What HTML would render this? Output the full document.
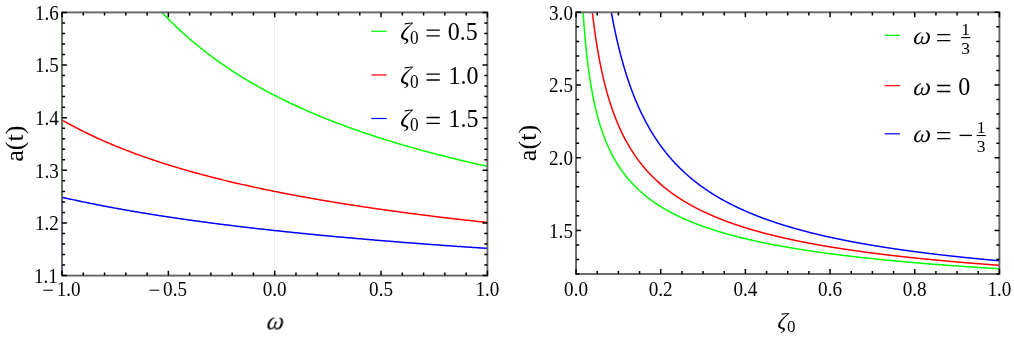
<!DOCTYPE html>
<html><head><meta charset="utf-8"><title>plot</title>
<style>
html,body{margin:0;padding:0;background:#fff;}
body{width:1014px;height:364px;overflow:hidden;}
svg{display:block;font-family:"Liberation Serif",serif;fill:#000;}
</style></head><body>
<svg width="1014" height="364" viewBox="0 0 1014 364">
<rect width="1014" height="364" fill="#fff"/>
<clipPath id="cl"><rect x="62.00" y="12.40" width="425.40" height="263.20"/></clipPath>
<line x1="274.5" x2="274.5" y1="12.40" y2="275.60" stroke="#e9e9e9" stroke-width="1"/>
<path clip-path="url(#cl)" d="M62.00,-170.65 L63.06,-167.26 L64.13,-163.92 L65.19,-160.64 L66.25,-157.42 L67.32,-154.24 L68.38,-151.11 L69.44,-148.04 L70.51,-145.01 L71.57,-142.02 L72.64,-139.09 L73.70,-136.19 L74.76,-133.34 L75.83,-130.53 L76.89,-127.77 L77.95,-125.04 L79.02,-122.35 L80.08,-119.70 L81.14,-117.09 L82.21,-114.51 L83.27,-111.97 L84.33,-109.47 L85.40,-107.00 L86.46,-104.56 L87.52,-102.16 L88.59,-99.79 L89.65,-97.45 L90.71,-95.14 L91.78,-92.86 L92.84,-90.61 L93.91,-88.39 L94.97,-86.19 L96.03,-84.03 L97.10,-81.89 L98.16,-79.78 L99.22,-77.69 L100.29,-75.63 L101.35,-73.60 L102.41,-71.59 L103.48,-69.60 L104.54,-67.64 L105.60,-65.70 L106.67,-63.78 L107.73,-61.89 L108.79,-60.02 L109.86,-58.17 L110.92,-56.34 L111.98,-54.53 L113.05,-52.74 L114.11,-50.97 L115.17,-49.23 L116.24,-47.50 L117.30,-45.79 L118.37,-44.10 L119.43,-42.42 L120.49,-40.77 L121.56,-39.13 L122.62,-37.51 L123.68,-35.91 L124.75,-34.32 L125.81,-32.75 L126.87,-31.20 L127.94,-29.66 L129.00,-28.14 L130.06,-26.64 L131.13,-25.14 L132.19,-23.67 L133.25,-22.21 L134.32,-20.76 L135.38,-19.33 L136.44,-17.91 L137.51,-16.51 L138.57,-15.12 L139.64,-13.74 L140.70,-12.38 L141.76,-11.02 L142.83,-9.69 L143.89,-8.36 L144.95,-7.05 L146.02,-5.75 L147.08,-4.46 L148.14,-3.18 L149.21,-1.92 L150.27,-0.66 L151.33,0.58 L152.40,1.81 L153.46,3.03 L154.52,4.24 L155.59,5.44 L156.65,6.63 L157.71,7.80 L158.78,8.97 L159.84,10.13 L160.91,11.27 L161.97,12.41 L163.03,13.54 L164.10,14.66 L165.16,15.76 L166.22,16.86 L167.29,17.95 L168.35,19.03 L169.41,20.10 L170.48,21.17 L171.54,22.22 L172.60,23.27 L173.67,24.30 L174.73,25.33 L175.79,26.35 L176.86,27.36 L177.92,28.37 L178.99,29.36 L180.05,30.35 L181.11,31.33 L182.18,32.30 L183.24,33.27 L184.30,34.22 L185.37,35.17 L186.43,36.12 L187.49,37.05 L188.56,37.98 L189.62,38.90 L190.68,39.82 L191.75,40.72 L192.81,41.62 L193.87,42.52 L194.94,43.41 L196.00,44.29 L197.06,45.16 L198.13,46.03 L199.19,46.89 L200.25,47.74 L201.32,48.59 L202.38,49.44 L203.45,50.27 L204.51,51.10 L205.57,51.93 L206.64,52.75 L207.70,53.56 L208.76,54.37 L209.83,55.17 L210.89,55.97 L211.95,56.76 L213.02,57.54 L214.08,58.32 L215.14,59.10 L216.21,59.87 L217.27,60.63 L218.33,61.39 L219.40,62.14 L220.46,62.89 L221.52,63.64 L222.59,64.38 L223.65,65.11 L224.72,65.84 L225.78,66.56 L226.84,67.28 L227.91,68.00 L228.97,68.71 L230.03,69.41 L231.10,70.11 L232.16,70.81 L233.22,71.50 L234.29,72.19 L235.35,72.87 L236.41,73.55 L237.48,74.23 L238.54,74.90 L239.60,75.56 L240.67,76.23 L241.73,76.88 L242.79,77.54 L243.86,78.19 L244.92,78.83 L245.99,79.48 L247.05,80.11 L248.11,80.75 L249.18,81.38 L250.24,82.00 L251.30,82.63 L252.37,83.25 L253.43,83.86 L254.49,84.47 L255.56,85.08 L256.62,85.68 L257.68,86.29 L258.75,86.88 L259.81,87.48 L260.87,88.07 L261.94,88.65 L263.00,89.24 L264.06,89.82 L265.13,90.39 L266.19,90.97 L267.26,91.54 L268.32,92.10 L269.38,92.67 L270.45,93.23 L271.51,93.79 L272.57,94.34 L273.64,94.89 L274.70,95.44 L275.76,95.98 L276.83,96.53 L277.89,97.07 L278.95,97.60 L280.02,98.14 L281.08,98.67 L282.14,99.19 L283.21,99.72 L284.27,100.24 L285.34,100.76 L286.40,101.27 L287.46,101.79 L288.53,102.30 L289.59,102.80 L290.65,103.31 L291.72,103.81 L292.78,104.31 L293.84,104.81 L294.91,105.30 L295.97,105.80 L297.03,106.28 L298.10,106.77 L299.16,107.26 L300.22,107.74 L301.29,108.22 L302.35,108.69 L303.41,109.17 L304.48,109.64 L305.54,110.11 L306.60,110.58 L307.67,111.04 L308.73,111.50 L309.80,111.96 L310.86,112.42 L311.92,112.88 L312.99,113.33 L314.05,113.78 L315.11,114.23 L316.18,114.68 L317.24,115.12 L318.30,115.56 L319.37,116.00 L320.43,116.44 L321.49,116.88 L322.56,117.31 L323.62,117.74 L324.68,118.17 L325.75,118.60 L326.81,119.02 L327.88,119.45 L328.94,119.87 L330.00,120.29 L331.07,120.71 L332.13,121.12 L333.19,121.53 L334.26,121.95 L335.32,122.36 L336.38,122.76 L337.45,123.17 L338.51,123.57 L339.57,123.97 L340.64,124.37 L341.70,124.77 L342.76,125.17 L343.83,125.56 L344.89,125.96 L345.95,126.35 L347.02,126.74 L348.08,127.12 L349.14,127.51 L350.21,127.89 L351.27,128.28 L352.34,128.66 L353.40,129.03 L354.46,129.41 L355.53,129.79 L356.59,130.16 L357.65,130.53 L358.72,130.90 L359.78,131.27 L360.84,131.64 L361.91,132.00 L362.97,132.37 L364.03,132.73 L365.10,133.09 L366.16,133.45 L367.22,133.81 L368.29,134.16 L369.35,134.52 L370.41,134.87 L371.48,135.22 L372.54,135.57 L373.61,135.92 L374.67,136.27 L375.73,136.61 L376.80,136.96 L377.86,137.30 L378.92,137.64 L379.99,137.98 L381.05,138.32 L382.11,138.66 L383.18,138.99 L384.24,139.33 L385.30,139.66 L386.37,139.99 L387.43,140.32 L388.49,140.65 L389.56,140.98 L390.62,141.30 L391.69,141.63 L392.75,141.95 L393.81,142.27 L394.88,142.59 L395.94,142.91 L397.00,143.23 L398.07,143.55 L399.13,143.86 L400.19,144.18 L401.26,144.49 L402.32,144.80 L403.38,145.11 L404.45,145.42 L405.51,145.73 L406.57,146.04 L407.64,146.34 L408.70,146.65 L409.76,146.95 L410.83,147.25 L411.89,147.55 L412.95,147.85 L414.02,148.15 L415.08,148.45 L416.15,148.74 L417.21,149.04 L418.27,149.33 L419.34,149.63 L420.40,149.92 L421.46,150.21 L422.53,150.50 L423.59,150.79 L424.65,151.07 L425.72,151.36 L426.78,151.64 L427.84,151.93 L428.91,152.21 L429.97,152.49 L431.03,152.77 L432.10,153.05 L433.16,153.33 L434.22,153.61 L435.29,153.89 L436.35,154.16 L437.42,154.44 L438.48,154.71 L439.54,154.98 L440.61,155.25 L441.67,155.52 L442.73,155.79 L443.80,156.06 L444.86,156.33 L445.92,156.60 L446.99,156.86 L448.05,157.13 L449.11,157.39 L450.18,157.65 L451.24,157.91 L452.30,158.17 L453.37,158.43 L454.43,158.69 L455.50,158.95 L456.56,159.21 L457.62,159.47 L458.69,159.72 L459.75,159.97 L460.81,160.23 L461.88,160.48 L462.94,160.73 L464.00,160.98 L465.07,161.23 L466.13,161.48 L467.19,161.73 L468.26,161.98 L469.32,162.22 L470.38,162.47 L471.45,162.71 L472.51,162.96 L473.57,163.20 L474.64,163.44 L475.70,163.69 L476.76,163.93 L477.83,164.17 L478.89,164.40 L479.96,164.64 L481.02,164.88 L482.08,165.12 L483.15,165.35 L484.21,165.59 L485.27,165.82 L486.34,166.05 L487.40,166.29" stroke="#00ff00" stroke-width="1.5" fill="none"/>
<path clip-path="url(#cl)" d="M62.00,119.99 L63.06,120.60 L64.13,121.20 L65.19,121.81 L66.25,122.40 L67.32,122.99 L68.38,123.58 L69.44,124.17 L70.51,124.75 L71.57,125.32 L72.64,125.89 L73.70,126.46 L74.76,127.02 L75.83,127.58 L76.89,128.13 L77.95,128.69 L79.02,129.23 L80.08,129.78 L81.14,130.32 L82.21,130.85 L83.27,131.38 L84.33,131.91 L85.40,132.44 L86.46,132.96 L87.52,133.48 L88.59,133.99 L89.65,134.50 L90.71,135.01 L91.78,135.52 L92.84,136.02 L93.91,136.52 L94.97,137.01 L96.03,137.50 L97.10,137.99 L98.16,138.47 L99.22,138.96 L100.29,139.43 L101.35,139.91 L102.41,140.38 L103.48,140.85 L104.54,141.32 L105.60,141.78 L106.67,142.24 L107.73,142.70 L108.79,143.16 L109.86,143.61 L110.92,144.06 L111.98,144.51 L113.05,144.95 L114.11,145.39 L115.17,145.83 L116.24,146.27 L117.30,146.70 L118.37,147.13 L119.43,147.56 L120.49,147.99 L121.56,148.41 L122.62,148.83 L123.68,149.25 L124.75,149.66 L125.81,150.08 L126.87,150.49 L127.94,150.90 L129.00,151.30 L130.06,151.71 L131.13,152.11 L132.19,152.51 L133.25,152.91 L134.32,153.30 L135.38,153.69 L136.44,154.08 L137.51,154.47 L138.57,154.86 L139.64,155.24 L140.70,155.62 L141.76,156.00 L142.83,156.38 L143.89,156.76 L144.95,157.13 L146.02,157.50 L147.08,157.87 L148.14,158.24 L149.21,158.60 L150.27,158.97 L151.33,159.33 L152.40,159.69 L153.46,160.05 L154.52,160.40 L155.59,160.76 L156.65,161.11 L157.71,161.46 L158.78,161.81 L159.84,162.15 L160.91,162.50 L161.97,162.84 L163.03,163.18 L164.10,163.52 L165.16,163.86 L166.22,164.19 L167.29,164.53 L168.35,164.86 L169.41,165.19 L170.48,165.52 L171.54,165.85 L172.60,166.17 L173.67,166.50 L174.73,166.82 L175.79,167.14 L176.86,167.46 L177.92,167.78 L178.99,168.10 L180.05,168.41 L181.11,168.72 L182.18,169.04 L183.24,169.35 L184.30,169.65 L185.37,169.96 L186.43,170.27 L187.49,170.57 L188.56,170.87 L189.62,171.18 L190.68,171.48 L191.75,171.77 L192.81,172.07 L193.87,172.37 L194.94,172.66 L196.00,172.95 L197.06,173.25 L198.13,173.54 L199.19,173.82 L200.25,174.11 L201.32,174.40 L202.38,174.68 L203.45,174.97 L204.51,175.25 L205.57,175.53 L206.64,175.81 L207.70,176.09 L208.76,176.36 L209.83,176.64 L210.89,176.92 L211.95,177.19 L213.02,177.46 L214.08,177.73 L215.14,178.00 L216.21,178.27 L217.27,178.54 L218.33,178.80 L219.40,179.07 L220.46,179.33 L221.52,179.59 L222.59,179.86 L223.65,180.12 L224.72,180.38 L225.78,180.63 L226.84,180.89 L227.91,181.15 L228.97,181.40 L230.03,181.66 L231.10,181.91 L232.16,182.16 L233.22,182.41 L234.29,182.66 L235.35,182.91 L236.41,183.16 L237.48,183.40 L238.54,183.65 L239.60,183.89 L240.67,184.13 L241.73,184.38 L242.79,184.62 L243.86,184.86 L244.92,185.10 L245.99,185.34 L247.05,185.57 L248.11,185.81 L249.18,186.04 L250.24,186.28 L251.30,186.51 L252.37,186.74 L253.43,186.98 L254.49,187.21 L255.56,187.44 L256.62,187.66 L257.68,187.89 L258.75,188.12 L259.81,188.35 L260.87,188.57 L261.94,188.79 L263.00,189.02 L264.06,189.24 L265.13,189.46 L266.19,189.68 L267.26,189.90 L268.32,190.12 L269.38,190.34 L270.45,190.56 L271.51,190.77 L272.57,190.99 L273.64,191.20 L274.70,191.42 L275.76,191.63 L276.83,191.84 L277.89,192.05 L278.95,192.27 L280.02,192.47 L281.08,192.68 L282.14,192.89 L283.21,193.10 L284.27,193.31 L285.34,193.51 L286.40,193.72 L287.46,193.92 L288.53,194.13 L289.59,194.33 L290.65,194.53 L291.72,194.73 L292.78,194.93 L293.84,195.13 L294.91,195.33 L295.97,195.53 L297.03,195.73 L298.10,195.92 L299.16,196.12 L300.22,196.32 L301.29,196.51 L302.35,196.70 L303.41,196.90 L304.48,197.09 L305.54,197.28 L306.60,197.47 L307.67,197.66 L308.73,197.85 L309.80,198.04 L310.86,198.23 L311.92,198.42 L312.99,198.61 L314.05,198.79 L315.11,198.98 L316.18,199.17 L317.24,199.35 L318.30,199.53 L319.37,199.72 L320.43,199.90 L321.49,200.08 L322.56,200.26 L323.62,200.44 L324.68,200.62 L325.75,200.80 L326.81,200.98 L327.88,201.16 L328.94,201.34 L330.00,201.52 L331.07,201.69 L332.13,201.87 L333.19,202.04 L334.26,202.22 L335.32,202.39 L336.38,202.57 L337.45,202.74 L338.51,202.91 L339.57,203.08 L340.64,203.25 L341.70,203.43 L342.76,203.60 L343.83,203.76 L344.89,203.93 L345.95,204.10 L347.02,204.27 L348.08,204.44 L349.14,204.60 L350.21,204.77 L351.27,204.94 L352.34,205.10 L353.40,205.27 L354.46,205.43 L355.53,205.59 L356.59,205.76 L357.65,205.92 L358.72,206.08 L359.78,206.24 L360.84,206.40 L361.91,206.56 L362.97,206.72 L364.03,206.88 L365.10,207.04 L366.16,207.20 L367.22,207.36 L368.29,207.51 L369.35,207.67 L370.41,207.83 L371.48,207.98 L372.54,208.14 L373.61,208.29 L374.67,208.45 L375.73,208.60 L376.80,208.75 L377.86,208.91 L378.92,209.06 L379.99,209.21 L381.05,209.36 L382.11,209.51 L383.18,209.66 L384.24,209.81 L385.30,209.96 L386.37,210.11 L387.43,210.26 L388.49,210.41 L389.56,210.56 L390.62,210.70 L391.69,210.85 L392.75,211.00 L393.81,211.14 L394.88,211.29 L395.94,211.43 L397.00,211.58 L398.07,211.72 L399.13,211.87 L400.19,212.01 L401.26,212.15 L402.32,212.29 L403.38,212.44 L404.45,212.58 L405.51,212.72 L406.57,212.86 L407.64,213.00 L408.70,213.14 L409.76,213.28 L410.83,213.42 L411.89,213.56 L412.95,213.70 L414.02,213.83 L415.08,213.97 L416.15,214.11 L417.21,214.25 L418.27,214.38 L419.34,214.52 L420.40,214.65 L421.46,214.79 L422.53,214.92 L423.59,215.06 L424.65,215.19 L425.72,215.32 L426.78,215.46 L427.84,215.59 L428.91,215.72 L429.97,215.85 L431.03,215.99 L432.10,216.12 L433.16,216.25 L434.22,216.38 L435.29,216.51 L436.35,216.64 L437.42,216.77 L438.48,216.90 L439.54,217.03 L440.61,217.15 L441.67,217.28 L442.73,217.41 L443.80,217.54 L444.86,217.66 L445.92,217.79 L446.99,217.92 L448.05,218.04 L449.11,218.17 L450.18,218.29 L451.24,218.42 L452.30,218.54 L453.37,218.67 L454.43,218.79 L455.50,218.91 L456.56,219.04 L457.62,219.16 L458.69,219.28 L459.75,219.40 L460.81,219.53 L461.88,219.65 L462.94,219.77 L464.00,219.89 L465.07,220.01 L466.13,220.13 L467.19,220.25 L468.26,220.37 L469.32,220.49 L470.38,220.61 L471.45,220.73 L472.51,220.84 L473.57,220.96 L474.64,221.08 L475.70,221.20 L476.76,221.31 L477.83,221.43 L478.89,221.55 L479.96,221.66 L481.02,221.78 L482.08,221.89 L483.15,222.01 L484.21,222.12 L485.27,222.24 L486.34,222.35 L487.40,222.47" stroke="#ff0000" stroke-width="1.5" fill="none"/>
<path clip-path="url(#cl)" d="M62.00,197.25 L63.06,197.49 L64.13,197.73 L65.19,197.97 L66.25,198.21 L67.32,198.45 L68.38,198.69 L69.44,198.92 L70.51,199.16 L71.57,199.39 L72.64,199.62 L73.70,199.86 L74.76,200.09 L75.83,200.32 L76.89,200.54 L77.95,200.77 L79.02,201.00 L80.08,201.22 L81.14,201.45 L82.21,201.67 L83.27,201.89 L84.33,202.11 L85.40,202.33 L86.46,202.55 L87.52,202.77 L88.59,202.99 L89.65,203.21 L90.71,203.42 L91.78,203.64 L92.84,203.85 L93.91,204.06 L94.97,204.27 L96.03,204.48 L97.10,204.69 L98.16,204.90 L99.22,205.11 L100.29,205.32 L101.35,205.52 L102.41,205.73 L103.48,205.93 L104.54,206.14 L105.60,206.34 L106.67,206.54 L107.73,206.74 L108.79,206.94 L109.86,207.14 L110.92,207.34 L111.98,207.54 L113.05,207.73 L114.11,207.93 L115.17,208.13 L116.24,208.32 L117.30,208.51 L118.37,208.71 L119.43,208.90 L120.49,209.09 L121.56,209.28 L122.62,209.47 L123.68,209.66 L124.75,209.85 L125.81,210.03 L126.87,210.22 L127.94,210.41 L129.00,210.59 L130.06,210.77 L131.13,210.96 L132.19,211.14 L133.25,211.32 L134.32,211.50 L135.38,211.68 L136.44,211.86 L137.51,212.04 L138.57,212.22 L139.64,212.40 L140.70,212.58 L141.76,212.75 L142.83,212.93 L143.89,213.10 L144.95,213.28 L146.02,213.45 L147.08,213.63 L148.14,213.80 L149.21,213.97 L150.27,214.14 L151.33,214.31 L152.40,214.48 L153.46,214.65 L154.52,214.82 L155.59,214.99 L156.65,215.15 L157.71,215.32 L158.78,215.49 L159.84,215.65 L160.91,215.82 L161.97,215.98 L163.03,216.14 L164.10,216.31 L165.16,216.47 L166.22,216.63 L167.29,216.79 L168.35,216.95 L169.41,217.11 L170.48,217.27 L171.54,217.43 L172.60,217.59 L173.67,217.75 L174.73,217.90 L175.79,218.06 L176.86,218.21 L177.92,218.37 L178.99,218.52 L180.05,218.68 L181.11,218.83 L182.18,218.99 L183.24,219.14 L184.30,219.29 L185.37,219.44 L186.43,219.59 L187.49,219.74 L188.56,219.89 L189.62,220.04 L190.68,220.19 L191.75,220.34 L192.81,220.49 L193.87,220.64 L194.94,220.78 L196.00,220.93 L197.06,221.07 L198.13,221.22 L199.19,221.36 L200.25,221.51 L201.32,221.65 L202.38,221.80 L203.45,221.94 L204.51,222.08 L205.57,222.22 L206.64,222.36 L207.70,222.50 L208.76,222.65 L209.83,222.79 L210.89,222.92 L211.95,223.06 L213.02,223.20 L214.08,223.34 L215.14,223.48 L216.21,223.62 L217.27,223.75 L218.33,223.89 L219.40,224.02 L220.46,224.16 L221.52,224.29 L222.59,224.43 L223.65,224.56 L224.72,224.70 L225.78,224.83 L226.84,224.96 L227.91,225.09 L228.97,225.23 L230.03,225.36 L231.10,225.49 L232.16,225.62 L233.22,225.75 L234.29,225.88 L235.35,226.01 L236.41,226.14 L237.48,226.27 L238.54,226.40 L239.60,226.52 L240.67,226.65 L241.73,226.78 L242.79,226.90 L243.86,227.03 L244.92,227.16 L245.99,227.28 L247.05,227.41 L248.11,227.53 L249.18,227.65 L250.24,227.78 L251.30,227.90 L252.37,228.02 L253.43,228.15 L254.49,228.27 L255.56,228.39 L256.62,228.51 L257.68,228.63 L258.75,228.76 L259.81,228.88 L260.87,229.00 L261.94,229.12 L263.00,229.23 L264.06,229.35 L265.13,229.47 L266.19,229.59 L267.26,229.71 L268.32,229.83 L269.38,229.94 L270.45,230.06 L271.51,230.18 L272.57,230.29 L273.64,230.41 L274.70,230.52 L275.76,230.64 L276.83,230.75 L277.89,230.87 L278.95,230.98 L280.02,231.10 L281.08,231.21 L282.14,231.32 L283.21,231.44 L284.27,231.55 L285.34,231.66 L286.40,231.77 L287.46,231.88 L288.53,231.99 L289.59,232.10 L290.65,232.22 L291.72,232.33 L292.78,232.44 L293.84,232.55 L294.91,232.65 L295.97,232.76 L297.03,232.87 L298.10,232.98 L299.16,233.09 L300.22,233.20 L301.29,233.30 L302.35,233.41 L303.41,233.52 L304.48,233.62 L305.54,233.73 L306.60,233.84 L307.67,233.94 L308.73,234.05 L309.80,234.15 L310.86,234.26 L311.92,234.36 L312.99,234.46 L314.05,234.57 L315.11,234.67 L316.18,234.78 L317.24,234.88 L318.30,234.98 L319.37,235.08 L320.43,235.19 L321.49,235.29 L322.56,235.39 L323.62,235.49 L324.68,235.59 L325.75,235.69 L326.81,235.79 L327.88,235.89 L328.94,235.99 L330.00,236.09 L331.07,236.19 L332.13,236.29 L333.19,236.39 L334.26,236.49 L335.32,236.59 L336.38,236.68 L337.45,236.78 L338.51,236.88 L339.57,236.98 L340.64,237.07 L341.70,237.17 L342.76,237.27 L343.83,237.36 L344.89,237.46 L345.95,237.55 L347.02,237.65 L348.08,237.75 L349.14,237.84 L350.21,237.94 L351.27,238.03 L352.34,238.12 L353.40,238.22 L354.46,238.31 L355.53,238.41 L356.59,238.50 L357.65,238.59 L358.72,238.68 L359.78,238.78 L360.84,238.87 L361.91,238.96 L362.97,239.05 L364.03,239.14 L365.10,239.24 L366.16,239.33 L367.22,239.42 L368.29,239.51 L369.35,239.60 L370.41,239.69 L371.48,239.78 L372.54,239.87 L373.61,239.96 L374.67,240.05 L375.73,240.14 L376.80,240.23 L377.86,240.31 L378.92,240.40 L379.99,240.49 L381.05,240.58 L382.11,240.67 L383.18,240.75 L384.24,240.84 L385.30,240.93 L386.37,241.02 L387.43,241.10 L388.49,241.19 L389.56,241.28 L390.62,241.36 L391.69,241.45 L392.75,241.53 L393.81,241.62 L394.88,241.70 L395.94,241.79 L397.00,241.87 L398.07,241.96 L399.13,242.04 L400.19,242.13 L401.26,242.21 L402.32,242.29 L403.38,242.38 L404.45,242.46 L405.51,242.54 L406.57,242.63 L407.64,242.71 L408.70,242.79 L409.76,242.87 L410.83,242.96 L411.89,243.04 L412.95,243.12 L414.02,243.20 L415.08,243.28 L416.15,243.36 L417.21,243.45 L418.27,243.53 L419.34,243.61 L420.40,243.69 L421.46,243.77 L422.53,243.85 L423.59,243.93 L424.65,244.01 L425.72,244.09 L426.78,244.17 L427.84,244.24 L428.91,244.32 L429.97,244.40 L431.03,244.48 L432.10,244.56 L433.16,244.64 L434.22,244.72 L435.29,244.79 L436.35,244.87 L437.42,244.95 L438.48,245.03 L439.54,245.10 L440.61,245.18 L441.67,245.26 L442.73,245.33 L443.80,245.41 L444.86,245.49 L445.92,245.56 L446.99,245.64 L448.05,245.71 L449.11,245.79 L450.18,245.86 L451.24,245.94 L452.30,246.01 L453.37,246.09 L454.43,246.16 L455.50,246.24 L456.56,246.31 L457.62,246.39 L458.69,246.46 L459.75,246.53 L460.81,246.61 L461.88,246.68 L462.94,246.76 L464.00,246.83 L465.07,246.90 L466.13,246.97 L467.19,247.05 L468.26,247.12 L469.32,247.19 L470.38,247.26 L471.45,247.34 L472.51,247.41 L473.57,247.48 L474.64,247.55 L475.70,247.62 L476.76,247.69 L477.83,247.77 L478.89,247.84 L479.96,247.91 L481.02,247.98 L482.08,248.05 L483.15,248.12 L484.21,248.19 L485.27,248.26 L486.34,248.33 L487.40,248.40" stroke="#0000ff" stroke-width="1.5" fill="none"/>
<rect x="62.00" y="12.40" width="425.40" height="263.20" fill="none" stroke="#666" stroke-width="1.9"/>
<line x1="62.5" x2="62.5" y1="12.40" y2="197.25" stroke="#00ff00" stroke-opacity=".13" stroke-width="1"/>
<line x1="62.5" x2="62.5" y1="197.25" y2="275.60" stroke="#0000ff" stroke-opacity=".13" stroke-width="1"/>
<path d="M62.00,275.60v-4.90M62.00,12.40v4.90M83.27,275.60v-3.10M83.27,12.40v3.10M104.54,275.60v-3.10M104.54,12.40v3.10M125.81,275.60v-3.10M125.81,12.40v3.10M147.08,275.60v-3.10M147.08,12.40v3.10M168.35,275.60v-4.90M168.35,12.40v4.90M189.62,275.60v-3.10M189.62,12.40v3.10M210.89,275.60v-3.10M210.89,12.40v3.10M232.16,275.60v-3.10M232.16,12.40v3.10M253.43,275.60v-3.10M253.43,12.40v3.10M274.70,275.60v-4.90M274.70,12.40v4.90M295.97,275.60v-3.10M295.97,12.40v3.10M317.24,275.60v-3.10M317.24,12.40v3.10M338.51,275.60v-3.10M338.51,12.40v3.10M359.78,275.60v-3.10M359.78,12.40v3.10M381.05,275.60v-4.90M381.05,12.40v4.90M402.32,275.60v-3.10M402.32,12.40v3.10M423.59,275.60v-3.10M423.59,12.40v3.10M444.86,275.60v-3.10M444.86,12.40v3.10M466.13,275.60v-3.10M466.13,12.40v3.10M487.40,275.60v-4.90M487.40,12.40v4.90M62.00,275.60h4.90M487.40,275.60h-4.90M62.00,265.07h3.10M487.40,265.07h-3.10M62.00,254.54h3.10M487.40,254.54h-3.10M62.00,244.02h3.10M487.40,244.02h-3.10M62.00,233.49h3.10M487.40,233.49h-3.10M62.00,222.96h4.90M487.40,222.96h-4.90M62.00,212.43h3.10M487.40,212.43h-3.10M62.00,201.90h3.10M487.40,201.90h-3.10M62.00,191.38h3.10M487.40,191.38h-3.10M62.00,180.85h3.10M487.40,180.85h-3.10M62.00,170.32h4.90M487.40,170.32h-4.90M62.00,159.79h3.10M487.40,159.79h-3.10M62.00,149.26h3.10M487.40,149.26h-3.10M62.00,138.74h3.10M487.40,138.74h-3.10M62.00,128.21h3.10M487.40,128.21h-3.10M62.00,117.68h4.90M487.40,117.68h-4.90M62.00,107.15h3.10M487.40,107.15h-3.10M62.00,96.62h3.10M487.40,96.62h-3.10M62.00,86.10h3.10M487.40,86.10h-3.10M62.00,75.57h3.10M487.40,75.57h-3.10M62.00,65.04h4.90M487.40,65.04h-4.90M62.00,54.51h3.10M487.40,54.51h-3.10M62.00,43.98h3.10M487.40,43.98h-3.10M62.00,33.46h3.10M487.40,33.46h-3.10M62.00,22.93h3.10M487.40,22.93h-3.10M62.00,12.40h4.90M487.40,12.40h-4.90" stroke="#000" stroke-width="1.5" fill="none"/>
<line x1="371.3" x2="386.7" y1="31.30" y2="31.30" stroke="#00ff00" stroke-width="1.2"/>
<path d="M426.50,30.10h13.30M426.50,35.90h13.30" stroke="#000" stroke-width="1.30" fill="none"/>
<line x1="371.3" x2="386.7" y1="75.00" y2="75.00" stroke="#ff0000" stroke-width="1.2"/>
<path d="M426.50,74.20h13.30M426.50,80.00h13.30" stroke="#000" stroke-width="1.30" fill="none"/>
<line x1="371.3" x2="386.7" y1="118.50" y2="118.50" stroke="#0000ff" stroke-width="1.2"/>
<path d="M426.50,117.50h13.30M426.50,123.30h13.30" stroke="#000" stroke-width="1.30" fill="none"/>
<clipPath id="cr"><rect x="576.05" y="12.30" width="423.35" height="261.70"/></clipPath>
<path clip-path="url(#cr)" d="M576.90,-290.58 L577.18,-239.46 L577.46,-202.27 L577.74,-173.38 L578.02,-149.97 L578.31,-130.41 L578.59,-113.69 L578.87,-99.16 L579.15,-86.34 L579.43,-74.90 L579.71,-64.60 L580.00,-55.25 L580.28,-46.70 L580.56,-38.84 L580.84,-31.57 L581.12,-24.82 L581.40,-18.52 L581.69,-12.63 L581.97,-7.10 L582.25,-1.89 L582.53,3.03 L582.81,7.69 L583.09,12.11 L583.38,16.31 L583.66,20.32 L583.94,24.14 L584.22,27.79 L584.50,31.29 L584.78,34.65 L585.07,37.87 L585.35,40.96 L585.63,43.94 L585.91,46.81 L586.19,49.58 L586.47,52.26 L586.76,54.84 L587.04,57.34 L587.32,59.76 L587.60,62.11 L587.88,64.38 L588.16,66.58 L588.45,68.73 L588.73,70.81 L589.01,72.83 L589.29,74.80 L589.57,76.72 L589.85,78.58 L590.14,80.40 L590.42,82.17 L590.70,83.90 L590.98,85.59 L591.26,87.24 L591.54,88.85 L591.83,90.42 L592.11,91.96 L592.39,93.46 L592.67,94.93 L592.95,96.37 L593.23,97.78 L593.52,99.16 L593.80,100.51 L594.08,101.84 L594.36,103.14 L594.64,104.41 L594.92,105.66 L595.21,106.89 L595.49,108.09 L595.77,109.27 L596.05,110.43 L596.33,111.57 L596.61,112.69 L596.90,113.79 L597.18,114.87 L597.46,115.93 L597.74,116.98 L598.02,118.01 L598.30,119.02 L598.59,120.01 L598.87,120.99 L599.15,121.95 L599.43,122.90 L599.71,123.84 L599.99,124.76 L600.28,125.66 L600.56,126.56 L600.84,127.44 L601.12,128.30 L601.40,129.16 L601.68,130.00 L601.97,130.83 L602.25,131.65 L602.53,132.46 L602.81,133.26 L603.09,134.05 L603.37,134.82 L603.66,135.59 L603.94,136.34 L604.22,137.09 L604.50,137.83 L604.78,138.55 L605.06,139.27 L605.35,139.98 L605.63,140.68 L605.91,141.37 L606.19,142.06 L606.47,142.73 L606.75,143.40 L607.04,144.06 L607.32,144.71 L607.60,145.36 L607.88,145.99 L608.16,146.62 L608.44,147.25 L608.73,147.86 L609.01,148.47 L609.29,149.07 L609.57,149.67 L609.85,150.26 L610.13,150.84 L610.42,151.42 L610.70,151.99 L610.98,152.55 L611.26,153.11 L611.54,153.67 L611.82,154.21 L612.11,154.76 L612.39,155.29 L612.67,155.82 L612.95,156.35 L613.23,156.87 L613.51,157.38 L613.80,157.90 L614.08,158.40 L614.36,158.90 L614.64,159.40 L614.92,159.89 L615.20,160.38 L615.49,160.86 L615.77,161.34 L616.05,161.81 L616.33,162.28 L616.61,162.74 L616.89,163.20 L617.18,163.66 L617.46,164.11 L617.74,164.56 L618.02,165.01 L618.30,165.45 L618.58,165.88 L618.87,166.32 L619.15,166.75 L619.43,167.17 L619.71,167.59 L619.99,168.01 L620.27,168.43 L620.56,168.84 L620.84,169.25 L621.12,169.65 L621.40,170.06 L621.68,170.45 L621.96,170.85 L622.25,171.24 L622.53,171.63 L622.81,172.02 L623.09,172.40 L623.37,172.78 L623.65,173.16 L623.94,173.53 L624.22,173.90 L624.50,174.27 L624.78,174.64 L625.06,175.00 L625.34,175.36 L625.63,175.72 L625.91,176.07 L626.19,176.42 L626.47,176.77 L626.75,177.12 L627.03,177.47 L627.32,177.81 L627.60,178.15 L627.88,178.48 L628.16,178.82 L628.44,179.15 L628.72,179.48 L629.01,179.81 L629.29,180.13 L629.57,180.46 L629.85,180.78 L630.13,181.10 L630.41,181.41 L630.70,181.73 L630.98,182.04 L631.26,182.35 L631.54,182.66 L631.82,182.97 L632.10,183.27 L632.39,183.57 L632.67,183.87 L632.95,184.17 L633.23,184.47 L633.51,184.76 L633.79,185.05 L634.08,185.34 L634.36,185.63 L634.64,185.92 L634.92,186.20 L635.20,186.49 L635.48,186.77 L635.77,187.05 L636.05,187.33 L636.33,187.60 L636.61,187.88 L636.89,188.15 L637.17,188.42 L637.46,188.69 L637.74,188.96 L638.02,189.22 L638.30,189.49 L638.58,189.75 L638.86,190.01 L639.15,190.27 L639.43,190.53 L639.71,190.79 L639.99,191.04 L640.27,191.30 L640.55,191.55 L640.84,191.80 L641.12,192.05 L641.40,192.30 L641.68,192.55 L641.96,192.79 L642.24,193.03 L642.53,193.28 L642.81,193.52 L643.09,193.76 L643.37,194.00 L643.65,194.23 L643.93,194.47 L644.22,194.70 L644.50,194.94 L644.78,195.17 L645.06,195.40 L645.34,195.63 L645.62,195.86 L645.91,196.08 L646.19,196.31 L646.47,196.54 L646.75,196.76 L647.03,196.98 L647.31,197.20 L647.60,197.42 L647.88,197.64 L648.16,197.86 L648.44,198.07 L648.72,198.29 L649.00,198.50 L649.29,198.72 L649.57,198.93 L649.85,199.14 L650.13,199.35 L650.41,199.56 L650.69,199.77 L650.98,199.97 L651.26,200.18 L651.54,200.38 L651.82,200.59 L652.10,200.79 L652.38,200.99 L652.67,201.19 L652.95,201.39 L653.23,201.59 L653.51,201.79 L653.79,201.98 L654.07,202.18 L654.36,202.37 L654.64,202.57 L654.92,202.76 L655.20,202.95 L655.48,203.14 L655.76,203.33 L656.05,203.52 L656.33,203.71 L656.61,203.90 L656.89,204.09 L657.17,204.27 L657.45,204.46 L657.74,204.64 L658.02,204.82 L658.30,205.01 L658.58,205.19 L658.86,205.37 L659.14,205.55 L659.43,205.73 L659.71,205.91 L659.99,206.08 L660.27,206.26 L660.55,206.44 L660.83,206.61 L661.12,206.79 L661.40,206.96 L661.68,207.13 L661.96,207.30 L662.24,207.47 L662.52,207.65 L662.81,207.81 L663.09,207.98 L663.37,208.15 L663.65,208.32 L663.93,208.49 L664.21,208.65 L664.50,208.82 L664.78,208.98 L665.06,209.15 L665.34,209.31 L665.62,209.47 L665.90,209.63 L666.19,209.79 L666.47,209.96 L666.75,210.11 L667.03,210.27 L667.31,210.43 L667.59,210.59 L667.88,210.75 L668.16,210.90 L668.44,211.06 L668.72,211.21 L669.00,211.37 L669.28,211.52 L669.57,211.68 L669.85,211.83 L670.13,211.98 L670.41,212.13 L670.69,212.28 L670.97,212.43 L671.26,212.58 L671.54,212.73 L671.82,212.88 L672.10,213.03 L672.38,213.18 L672.66,213.32 L672.95,213.47 L673.23,213.61 L673.51,213.76 L673.79,213.90 L674.07,214.05 L674.35,214.19 L674.64,214.33 L674.92,214.47 L675.20,214.62 L675.48,214.76 L675.76,214.90 L676.04,215.04 L676.33,215.18 L676.61,215.32 L676.89,215.45 L677.17,215.59 L677.45,215.73 L677.73,215.87 L678.02,216.00 L678.30,216.14 L678.58,216.27 L678.86,216.41 L679.14,216.54 L679.42,216.68 L679.71,216.81 L679.99,216.94 L680.27,217.07 L680.55,217.21 L680.83,217.34 L681.11,217.47 L681.40,217.60 L681.68,217.73 L681.96,217.86 L682.24,217.99 L682.52,218.11 L682.80,218.24 L683.09,218.37 L683.37,218.50 L683.65,218.62 L683.93,218.75 L684.21,218.88 L684.49,219.00 L684.78,219.13 L685.06,219.25 L685.34,219.37 L685.62,219.50 L685.90,219.62 L686.18,219.74 L686.47,219.86 L686.75,219.99 L687.03,220.11 L687.31,220.23 L687.59,220.35 L687.87,220.47 L688.16,220.59 L688.44,220.71 L688.72,220.83 L689.00,220.94 L689.28,221.06 L689.56,221.18 L689.85,221.30 L690.13,221.41 L690.41,221.53 L690.69,221.65 L690.97,221.76 L691.25,221.88 L691.54,221.99 L691.82,222.11 L692.10,222.22 L692.38,222.33 L692.66,222.45 L692.94,222.56 L693.23,222.67 L693.51,222.79 L693.79,222.90 L694.07,223.01 L694.35,223.12 L694.63,223.23 L694.92,223.34 L695.20,223.45 L695.48,223.56 L695.76,223.67 L696.04,223.78 L696.32,223.89 L696.61,224.00 L696.89,224.10 L697.17,224.21 L697.45,224.32 L697.73,224.43 L698.01,224.53 L698.30,224.64 L698.58,224.74 L698.86,224.85 L699.14,224.95 L699.42,225.06 L699.70,225.16 L699.99,225.27 L700.27,225.37 L700.55,225.47 L700.83,225.58 L701.11,225.68 L701.39,225.78 L701.68,225.89 L701.96,225.99 L702.24,226.09 L702.52,226.19 L702.80,226.29 L703.08,226.39 L703.37,226.49 L703.65,226.59 L703.93,226.69 L704.21,226.79 L704.49,226.89 L704.77,226.99 L705.06,227.09 L705.34,227.19 L705.62,227.28 L705.90,227.38 L706.18,227.48 L706.46,227.58 L706.75,227.67 L707.03,227.77 L707.31,227.87 L707.59,227.96 L707.87,228.06 L708.15,228.15 L708.44,228.25 L708.72,228.34 L709.00,228.44 L709.28,228.53 L709.56,228.62 L709.84,228.72 L710.13,228.81 L710.41,228.90 L710.69,229.00 L710.97,229.09 L711.25,229.18 L711.53,229.27 L711.82,229.37 L712.10,229.46 L712.38,229.55 L712.66,229.64 L712.94,229.73 L713.22,229.82 L713.51,229.91 L713.79,230.00 L714.07,230.09 L714.35,230.18 L714.63,230.27 L714.91,230.36 L715.20,230.45 L715.48,230.53 L715.76,230.62 L716.04,230.71 L716.32,230.80 L716.60,230.89 L716.89,230.97 L717.17,231.06 L717.45,231.15 L717.73,231.23 L718.01,231.32 L718.29,231.41 L718.58,231.49 L718.86,231.58 L719.14,231.66 L719.42,231.75 L719.70,231.83 L719.98,231.92 L720.27,232.00 L720.55,232.08 L720.83,232.17 L721.11,232.25 L721.39,232.34 L721.67,232.42 L721.96,232.50 L722.24,232.58 L722.52,232.67 L722.80,232.75 L723.08,232.83 L723.36,232.91 L723.65,232.99 L723.93,233.08 L724.21,233.16 L724.49,233.24 L724.77,233.32 L725.05,233.40 L725.34,233.48 L725.62,233.56 L725.90,233.64 L726.18,233.72 L726.46,233.80 L726.74,233.88 L727.03,233.96 L727.31,234.04 L727.59,234.11 L727.87,234.19 L728.15,234.27 L728.43,234.35 L728.72,234.43 L729.00,234.50 L729.28,234.58 L729.56,234.66 L729.84,234.74 L730.12,234.81 L730.41,234.89 L730.69,234.97 L730.97,235.04 L731.25,235.12 L731.53,235.19 L731.81,235.27 L732.10,235.34 L732.38,235.42 L732.66,235.49 L732.94,235.57 L733.22,235.64 L733.50,235.72 L733.79,235.79 L734.07,235.87 L734.35,235.94 L734.63,236.02 L734.91,236.09 L735.19,236.16 L735.48,236.24 L735.76,236.31 L736.04,236.38 L736.32,236.45 L736.60,236.53 L736.88,236.60 L737.17,236.67 L737.45,236.74 L737.73,236.81 L738.01,236.89 L738.29,236.96 L738.57,237.03 L738.86,237.10 L739.14,237.17 L739.42,237.24 L739.70,237.31 L739.98,237.38 L740.26,237.45 L740.55,237.52 L740.83,237.59 L741.11,237.66 L741.39,237.73 L741.67,237.80 L741.95,237.87 L742.24,237.94 L742.52,238.01 L742.80,238.08 L743.08,238.14 L743.36,238.21 L743.64,238.28 L743.93,238.35 L744.21,238.42 L744.49,238.48 L744.77,238.55 L745.05,238.62 L745.33,238.69 L745.62,238.75 L745.90,238.82 L746.18,238.89 L746.46,238.95 L746.74,239.02 L747.02,239.09 L747.31,239.15 L747.59,239.22 L747.87,239.28 L748.15,239.35 L748.43,239.42 L748.71,239.48 L749.00,239.55 L749.28,239.61 L749.56,239.68 L749.84,239.74 L750.12,239.81 L750.40,239.87 L750.69,239.93 L750.97,240.00 L751.25,240.06 L751.53,240.13 L751.81,240.19 L752.09,240.25 L752.38,240.32 L752.66,240.38 L752.94,240.44 L753.22,240.51 L753.50,240.57 L753.78,240.63 L754.07,240.69 L754.35,240.76 L754.63,240.82 L754.91,240.88 L755.19,240.94 L755.47,241.00 L755.76,241.07 L756.04,241.13 L756.32,241.19 L756.60,241.25 L756.88,241.31 L757.16,241.37 L757.45,241.43 L757.73,241.49 L758.01,241.56 L758.29,241.62 L758.57,241.68 L758.85,241.74 L759.14,241.80 L759.42,241.86 L759.70,241.92 L759.98,241.98 L760.26,242.04 L760.54,242.10 L760.83,242.15 L761.11,242.21 L761.39,242.27 L761.67,242.33 L761.95,242.39 L762.23,242.45 L762.52,242.51 L762.80,242.57 L763.08,242.62 L763.36,242.68 L763.64,242.74 L763.92,242.80 L764.21,242.86 L764.49,242.91 L764.77,242.97 L765.05,243.03 L765.33,243.09 L765.61,243.14 L765.90,243.20 L766.18,243.26 L766.46,243.31 L766.74,243.37 L767.02,243.43 L767.30,243.48 L767.59,243.54 L767.87,243.60 L768.15,243.65 L768.43,243.71 L768.71,243.76 L768.99,243.82 L769.28,243.88 L769.56,243.93 L769.84,243.99 L770.12,244.04 L770.40,244.10 L770.68,244.15 L770.97,244.21 L771.25,244.26 L771.53,244.32 L771.81,244.37 L772.09,244.42 L772.37,244.48 L772.66,244.53 L772.94,244.59 L773.22,244.64 L773.50,244.70 L773.78,244.75 L774.06,244.80 L774.35,244.86 L774.63,244.91 L774.91,244.96 L775.19,245.02 L775.47,245.07 L775.75,245.12 L776.04,245.18 L776.32,245.23 L776.60,245.28 L776.88,245.33 L777.16,245.39 L777.44,245.44 L777.73,245.49 L778.01,245.54 L778.29,245.59 L778.57,245.65 L778.85,245.70 L779.13,245.75 L779.42,245.80 L779.70,245.85 L779.98,245.90 L780.26,245.96 L780.54,246.01 L780.82,246.06 L781.11,246.11 L781.39,246.16 L781.67,246.21 L781.95,246.26 L782.23,246.31 L782.51,246.36 L782.80,246.41 L783.08,246.46 L783.36,246.51 L783.64,246.56 L783.92,246.61 L784.20,246.66 L784.49,246.71 L784.77,246.76 L785.05,246.81 L785.33,246.86 L785.61,246.91 L785.89,246.96 L786.18,247.01 L786.46,247.06 L786.74,247.11 L787.02,247.16 L787.30,247.21 L787.59,247.26 L787.87,247.30 L788.15,247.35 L788.43,247.40 L788.71,247.45 L788.99,247.50 L789.28,247.55 L789.56,247.59 L789.84,247.64 L790.12,247.69 L790.40,247.74 L790.68,247.79 L790.97,247.83 L791.25,247.88 L791.53,247.93 L791.81,247.98 L792.09,248.02 L792.37,248.07 L792.66,248.12 L792.94,248.16 L793.22,248.21 L793.50,248.26 L793.78,248.31 L794.06,248.35 L794.35,248.40 L794.63,248.45 L794.91,248.49 L795.19,248.54 L795.47,248.58 L795.75,248.63 L796.04,248.68 L796.32,248.72 L796.60,248.77 L796.88,248.81 L797.16,248.86 L797.44,248.91 L797.73,248.95 L798.01,249.00 L798.29,249.04 L798.57,249.09 L798.85,249.13 L799.13,249.18 L799.42,249.22 L799.70,249.27 L799.98,249.31 L800.26,249.36 L800.54,249.40 L800.82,249.45 L801.11,249.49 L801.39,249.54 L801.67,249.58 L801.95,249.62 L802.23,249.67 L802.51,249.71 L802.80,249.76 L803.08,249.80 L803.36,249.84 L803.64,249.89 L803.92,249.93 L804.20,249.98 L804.49,250.02 L804.77,250.06 L805.05,250.11 L805.33,250.15 L805.61,250.19 L805.89,250.24 L806.18,250.28 L806.46,250.32 L806.74,250.37 L807.02,250.41 L807.30,250.45 L807.58,250.49 L807.87,250.54 L808.15,250.58 L808.43,250.62 L808.71,250.66 L808.99,250.71 L809.27,250.75 L809.56,250.79 L809.84,250.83 L810.12,250.87 L810.40,250.92 L810.68,250.96 L810.96,251.00 L811.25,251.04 L811.53,251.08 L811.81,251.13 L812.09,251.17 L812.37,251.21 L812.65,251.25 L812.94,251.29 L813.22,251.33 L813.50,251.37 L813.78,251.41 L814.06,251.46 L814.34,251.50 L814.63,251.54 L814.91,251.58 L815.19,251.62 L815.47,251.66 L815.75,251.70 L816.03,251.74 L816.32,251.78 L816.60,251.82 L816.88,251.86 L817.16,251.90 L817.44,251.94 L817.72,251.98 L818.01,252.02 L818.29,252.06 L818.57,252.10 L818.85,252.14 L819.13,252.18 L819.41,252.22 L819.70,252.26 L819.98,252.30 L820.26,252.34 L820.54,252.38 L820.82,252.42 L821.10,252.46 L821.39,252.50 L821.67,252.54 L821.95,252.58 L822.23,252.62 L822.51,252.65 L822.79,252.69 L823.08,252.73 L823.36,252.77 L823.64,252.81 L823.92,252.85 L824.20,252.89 L824.48,252.93 L824.77,252.96 L825.05,253.00 L825.33,253.04 L825.61,253.08 L825.89,253.12 L826.17,253.16 L826.46,253.19 L826.74,253.23 L827.02,253.27 L827.30,253.31 L827.58,253.35 L827.86,253.38 L828.15,253.42 L828.43,253.46 L828.71,253.50 L828.99,253.53 L829.27,253.57 L829.55,253.61 L829.84,253.65 L830.12,253.68 L830.40,253.72 L830.68,253.76 L830.96,253.79 L831.24,253.83 L831.53,253.87 L831.81,253.90 L832.09,253.94 L832.37,253.98 L832.65,254.02 L832.93,254.05 L833.22,254.09 L833.50,254.13 L833.78,254.16 L834.06,254.20 L834.34,254.23 L834.62,254.27 L834.91,254.31 L835.19,254.34 L835.47,254.38 L835.75,254.42 L836.03,254.45 L836.31,254.49 L836.60,254.52 L836.88,254.56 L837.16,254.59 L837.44,254.63 L837.72,254.67 L838.00,254.70 L838.29,254.74 L838.57,254.77 L838.85,254.81 L839.13,254.84 L839.41,254.88 L839.69,254.91 L839.98,254.95 L840.26,254.98 L840.54,255.02 L840.82,255.05 L841.10,255.09 L841.38,255.12 L841.67,255.16 L841.95,255.19 L842.23,255.23 L842.51,255.26 L842.79,255.30 L843.07,255.33 L843.36,255.37 L843.64,255.40 L843.92,255.44 L844.20,255.47 L844.48,255.51 L844.76,255.54 L845.05,255.57 L845.33,255.61 L845.61,255.64 L845.89,255.68 L846.17,255.71 L846.45,255.74 L846.74,255.78 L847.02,255.81 L847.30,255.85 L847.58,255.88 L847.86,255.91 L848.14,255.95 L848.43,255.98 L848.71,256.01 L848.99,256.05 L849.27,256.08 L849.55,256.11 L849.83,256.15 L850.12,256.18 L850.40,256.21 L850.68,256.25 L850.96,256.28 L851.24,256.31 L851.52,256.35 L851.81,256.38 L852.09,256.41 L852.37,256.45 L852.65,256.48 L852.93,256.51 L853.21,256.54 L853.50,256.58 L853.78,256.61 L854.06,256.64 L854.34,256.67 L854.62,256.71 L854.90,256.74 L855.19,256.77 L855.47,256.80 L855.75,256.84 L856.03,256.87 L856.31,256.90 L856.59,256.93 L856.88,256.96 L857.16,257.00 L857.44,257.03 L857.72,257.06 L858.00,257.09 L858.28,257.12 L858.57,257.16 L858.85,257.19 L859.13,257.22 L859.41,257.25 L859.69,257.28 L859.97,257.31 L860.26,257.35 L860.54,257.38 L860.82,257.41 L861.10,257.44 L861.38,257.47 L861.66,257.50 L861.95,257.53 L862.23,257.57 L862.51,257.60 L862.79,257.63 L863.07,257.66 L863.35,257.69 L863.64,257.72 L863.92,257.75 L864.20,257.78 L864.48,257.81 L864.76,257.84 L865.04,257.87 L865.33,257.91 L865.61,257.94 L865.89,257.97 L866.17,258.00 L866.45,258.03 L866.73,258.06 L867.02,258.09 L867.30,258.12 L867.58,258.15 L867.86,258.18 L868.14,258.21 L868.42,258.24 L868.71,258.27 L868.99,258.30 L869.27,258.33 L869.55,258.36 L869.83,258.39 L870.11,258.42 L870.40,258.45 L870.68,258.48 L870.96,258.51 L871.24,258.54 L871.52,258.57 L871.80,258.60 L872.09,258.63 L872.37,258.66 L872.65,258.69 L872.93,258.72 L873.21,258.75 L873.49,258.78 L873.78,258.81 L874.06,258.83 L874.34,258.86 L874.62,258.89 L874.90,258.92 L875.18,258.95 L875.47,258.98 L875.75,259.01 L876.03,259.04 L876.31,259.07 L876.59,259.10 L876.87,259.13 L877.16,259.16 L877.44,259.18 L877.72,259.21 L878.00,259.24 L878.28,259.27 L878.56,259.30 L878.85,259.33 L879.13,259.36 L879.41,259.38 L879.69,259.41 L879.97,259.44 L880.25,259.47 L880.54,259.50 L880.82,259.53 L881.10,259.56 L881.38,259.58 L881.66,259.61 L881.94,259.64 L882.23,259.67 L882.51,259.70 L882.79,259.72 L883.07,259.75 L883.35,259.78 L883.63,259.81 L883.92,259.84 L884.20,259.86 L884.48,259.89 L884.76,259.92 L885.04,259.95 L885.32,259.98 L885.61,260.00 L885.89,260.03 L886.17,260.06 L886.45,260.09 L886.73,260.11 L887.01,260.14 L887.30,260.17 L887.58,260.20 L887.86,260.22 L888.14,260.25 L888.42,260.28 L888.70,260.31 L888.99,260.33 L889.27,260.36 L889.55,260.39 L889.83,260.41 L890.11,260.44 L890.39,260.47 L890.68,260.50 L890.96,260.52 L891.24,260.55 L891.52,260.58 L891.80,260.60 L892.08,260.63 L892.37,260.66 L892.65,260.68 L892.93,260.71 L893.21,260.74 L893.49,260.76 L893.77,260.79 L894.06,260.82 L894.34,260.84 L894.62,260.87 L894.90,260.90 L895.18,260.92 L895.46,260.95 L895.75,260.98 L896.03,261.00 L896.31,261.03 L896.59,261.05 L896.87,261.08 L897.15,261.11 L897.44,261.13 L897.72,261.16 L898.00,261.19 L898.28,261.21 L898.56,261.24 L898.84,261.26 L899.13,261.29 L899.41,261.32 L899.69,261.34 L899.97,261.37 L900.25,261.39 L900.53,261.42 L900.82,261.44 L901.10,261.47 L901.38,261.50 L901.66,261.52 L901.94,261.55 L902.22,261.57 L902.51,261.60 L902.79,261.62 L903.07,261.65 L903.35,261.68 L903.63,261.70 L903.91,261.73 L904.20,261.75 L904.48,261.78 L904.76,261.80 L905.04,261.83 L905.32,261.85 L905.60,261.88 L905.89,261.90 L906.17,261.93 L906.45,261.95 L906.73,261.98 L907.01,262.00 L907.29,262.03 L907.58,262.05 L907.86,262.08 L908.14,262.10 L908.42,262.13 L908.70,262.15 L908.98,262.18 L909.27,262.20 L909.55,262.23 L909.83,262.25 L910.11,262.28 L910.39,262.30 L910.67,262.33 L910.96,262.35 L911.24,262.37 L911.52,262.40 L911.80,262.42 L912.08,262.45 L912.36,262.47 L912.65,262.50 L912.93,262.52 L913.21,262.55 L913.49,262.57 L913.77,262.59 L914.05,262.62 L914.34,262.64 L914.62,262.67 L914.90,262.69 L915.18,262.71 L915.46,262.74 L915.74,262.76 L916.03,262.79 L916.31,262.81 L916.59,262.83 L916.87,262.86 L917.15,262.88 L917.43,262.91 L917.72,262.93 L918.00,262.95 L918.28,262.98 L918.56,263.00 L918.84,263.03 L919.12,263.05 L919.41,263.07 L919.69,263.10 L919.97,263.12 L920.25,263.14 L920.53,263.17 L920.81,263.19 L921.10,263.21 L921.38,263.24 L921.66,263.26 L921.94,263.28 L922.22,263.31 L922.50,263.33 L922.79,263.35 L923.07,263.38 L923.35,263.40 L923.63,263.42 L923.91,263.45 L924.19,263.47 L924.48,263.49 L924.76,263.52 L925.04,263.54 L925.32,263.56 L925.60,263.59 L925.88,263.61 L926.17,263.63 L926.45,263.65 L926.73,263.68 L927.01,263.70 L927.29,263.72 L927.57,263.75 L927.86,263.77 L928.14,263.79 L928.42,263.81 L928.70,263.84 L928.98,263.86 L929.26,263.88 L929.55,263.91 L929.83,263.93 L930.11,263.95 L930.39,263.97 L930.67,264.00 L930.95,264.02 L931.24,264.04 L931.52,264.06 L931.80,264.09 L932.08,264.11 L932.36,264.13 L932.64,264.15 L932.93,264.17 L933.21,264.20 L933.49,264.22 L933.77,264.24 L934.05,264.26 L934.33,264.29 L934.62,264.31 L934.90,264.33 L935.18,264.35 L935.46,264.37 L935.74,264.40 L936.02,264.42 L936.31,264.44 L936.59,264.46 L936.87,264.48 L937.15,264.51 L937.43,264.53 L937.71,264.55 L938.00,264.57 L938.28,264.59 L938.56,264.61 L938.84,264.64 L939.12,264.66 L939.40,264.68 L939.69,264.70 L939.97,264.72 L940.25,264.74 L940.53,264.77 L940.81,264.79 L941.09,264.81 L941.38,264.83 L941.66,264.85 L941.94,264.87 L942.22,264.90 L942.50,264.92 L942.78,264.94 L943.07,264.96 L943.35,264.98 L943.63,265.00 L943.91,265.02 L944.19,265.04 L944.47,265.07 L944.76,265.09 L945.04,265.11 L945.32,265.13 L945.60,265.15 L945.88,265.17 L946.16,265.19 L946.45,265.21 L946.73,265.23 L947.01,265.26 L947.29,265.28 L947.57,265.30 L947.85,265.32 L948.14,265.34 L948.42,265.36 L948.70,265.38 L948.98,265.40 L949.26,265.42 L949.54,265.44 L949.83,265.46 L950.11,265.48 L950.39,265.51 L950.67,265.53 L950.95,265.55 L951.23,265.57 L951.52,265.59 L951.80,265.61 L952.08,265.63 L952.36,265.65 L952.64,265.67 L952.92,265.69 L953.21,265.71 L953.49,265.73 L953.77,265.75 L954.05,265.77 L954.33,265.79 L954.61,265.81 L954.90,265.83 L955.18,265.85 L955.46,265.87 L955.74,265.89 L956.02,265.91 L956.30,265.93 L956.59,265.96 L956.87,265.98 L957.15,266.00 L957.43,266.02 L957.71,266.04 L957.99,266.06 L958.28,266.08 L958.56,266.10 L958.84,266.12 L959.12,266.14 L959.40,266.16 L959.68,266.18 L959.97,266.20 L960.25,266.22 L960.53,266.24 L960.81,266.26 L961.09,266.27 L961.37,266.29 L961.66,266.31 L961.94,266.33 L962.22,266.35 L962.50,266.37 L962.78,266.39 L963.06,266.41 L963.35,266.43 L963.63,266.45 L963.91,266.47 L964.19,266.49 L964.47,266.51 L964.75,266.53 L965.04,266.55 L965.32,266.57 L965.60,266.59 L965.88,266.61 L966.16,266.63 L966.44,266.65 L966.73,266.67 L967.01,266.69 L967.29,266.71 L967.57,266.72 L967.85,266.74 L968.13,266.76 L968.42,266.78 L968.70,266.80 L968.98,266.82 L969.26,266.84 L969.54,266.86 L969.82,266.88 L970.11,266.90 L970.39,266.92 L970.67,266.94 L970.95,266.95 L971.23,266.97 L971.51,266.99 L971.80,267.01 L972.08,267.03 L972.36,267.05 L972.64,267.07 L972.92,267.09 L973.20,267.11 L973.49,267.13 L973.77,267.14 L974.05,267.16 L974.33,267.18 L974.61,267.20 L974.89,267.22 L975.18,267.24 L975.46,267.26 L975.74,267.28 L976.02,267.29 L976.30,267.31 L976.58,267.33 L976.87,267.35 L977.15,267.37 L977.43,267.39 L977.71,267.41 L977.99,267.42 L978.27,267.44 L978.56,267.46 L978.84,267.48 L979.12,267.50 L979.40,267.52 L979.68,267.54 L979.96,267.55 L980.25,267.57 L980.53,267.59 L980.81,267.61 L981.09,267.63 L981.37,267.65 L981.65,267.66 L981.94,267.68 L982.22,267.70 L982.50,267.72 L982.78,267.74 L983.06,267.75 L983.34,267.77 L983.63,267.79 L983.91,267.81 L984.19,267.83 L984.47,267.85 L984.75,267.86 L985.03,267.88 L985.32,267.90 L985.60,267.92 L985.88,267.94 L986.16,267.95 L986.44,267.97 L986.72,267.99 L987.01,268.01 L987.29,268.02 L987.57,268.04 L987.85,268.06 L988.13,268.08 L988.41,268.10 L988.70,268.11 L988.98,268.13 L989.26,268.15 L989.54,268.17 L989.82,268.18 L990.10,268.20 L990.39,268.22 L990.67,268.24 L990.95,268.26 L991.23,268.27 L991.51,268.29 L991.79,268.31 L992.08,268.33 L992.36,268.34 L992.64,268.36 L992.92,268.38 L993.20,268.40 L993.48,268.41 L993.77,268.43 L994.05,268.45 L994.33,268.47 L994.61,268.48 L994.89,268.50 L995.17,268.52 L995.46,268.54 L995.74,268.55 L996.02,268.57 L996.30,268.59 L996.58,268.60 L996.86,268.62 L997.15,268.64 L997.43,268.66 L997.71,268.67 L997.99,268.69 L998.27,268.71 L998.55,268.72 L998.84,268.74 L999.12,268.76 L999.40,268.78" stroke="#00ff00" stroke-width="1.5" fill="none"/>
<path clip-path="url(#cr)" d="M576.90,-706.25 L577.18,-601.07 L577.46,-526.15 L577.74,-468.95 L578.02,-423.23 L578.31,-385.50 L578.59,-353.59 L578.87,-326.10 L579.15,-302.06 L579.43,-280.77 L579.71,-261.74 L580.00,-244.57 L580.28,-228.97 L580.56,-214.70 L580.84,-201.58 L581.12,-189.46 L581.40,-178.21 L581.69,-167.72 L581.97,-157.92 L582.25,-148.72 L582.53,-140.07 L582.81,-131.90 L583.09,-124.19 L583.38,-116.87 L583.66,-109.93 L583.94,-103.32 L584.22,-97.03 L584.50,-91.02 L584.78,-85.27 L585.07,-79.77 L585.35,-74.49 L585.63,-69.42 L585.91,-64.56 L586.19,-59.87 L586.47,-55.36 L586.76,-51.01 L587.04,-46.81 L587.32,-42.76 L587.60,-38.84 L587.88,-35.04 L588.16,-31.37 L588.45,-27.81 L588.73,-24.36 L589.01,-21.01 L589.29,-17.75 L589.57,-14.59 L589.85,-11.52 L590.14,-8.53 L590.42,-5.62 L590.70,-2.79 L590.98,-0.03 L591.26,2.66 L591.54,5.28 L591.83,7.84 L592.11,10.34 L592.39,12.78 L592.67,15.16 L592.95,17.49 L593.23,19.77 L593.52,21.99 L593.80,24.17 L594.08,26.30 L594.36,28.39 L594.64,30.43 L594.92,32.43 L595.21,34.40 L595.49,36.32 L595.77,38.20 L596.05,40.05 L596.33,41.86 L596.61,43.64 L596.90,45.39 L597.18,47.10 L597.46,48.79 L597.74,50.44 L598.02,52.07 L598.30,53.66 L598.59,55.23 L598.87,56.77 L599.15,58.29 L599.43,59.78 L599.71,61.25 L599.99,62.69 L600.28,64.11 L600.56,65.51 L600.84,66.89 L601.12,68.24 L601.40,69.58 L601.68,70.89 L601.97,72.18 L602.25,73.46 L602.53,74.72 L602.81,75.95 L603.09,77.17 L603.37,78.38 L603.66,79.56 L603.94,80.73 L604.22,81.89 L604.50,83.03 L604.78,84.15 L605.06,85.25 L605.35,86.35 L605.63,87.43 L605.91,88.49 L606.19,89.54 L606.47,90.58 L606.75,91.60 L607.04,92.61 L607.32,93.61 L607.60,94.60 L607.88,95.57 L608.16,96.53 L608.44,97.48 L608.73,98.42 L609.01,99.35 L609.29,100.27 L609.57,101.18 L609.85,102.07 L610.13,102.96 L610.42,103.83 L610.70,104.70 L610.98,105.56 L611.26,106.40 L611.54,107.24 L611.82,108.07 L612.11,108.89 L612.39,109.70 L612.67,110.50 L612.95,111.29 L613.23,112.08 L613.51,112.86 L613.80,113.62 L614.08,114.39 L614.36,115.14 L614.64,115.88 L614.92,116.62 L615.20,117.35 L615.49,118.07 L615.77,118.79 L616.05,119.50 L616.33,120.20 L616.61,120.90 L616.89,121.59 L617.18,122.27 L617.46,122.94 L617.74,123.61 L618.02,124.28 L618.30,124.93 L618.58,125.58 L618.87,126.23 L619.15,126.87 L619.43,127.50 L619.71,128.13 L619.99,128.75 L620.27,129.36 L620.56,129.98 L620.84,130.58 L621.12,131.18 L621.40,131.78 L621.68,132.37 L621.96,132.95 L622.25,133.53 L622.53,134.10 L622.81,134.67 L623.09,135.24 L623.37,135.80 L623.65,136.35 L623.94,136.91 L624.22,137.45 L624.50,137.99 L624.78,138.53 L625.06,139.07 L625.34,139.59 L625.63,140.12 L625.91,140.64 L626.19,141.16 L626.47,141.67 L626.75,142.18 L627.03,142.68 L627.32,143.18 L627.60,143.68 L627.88,144.17 L628.16,144.66 L628.44,145.15 L628.72,145.63 L629.01,146.11 L629.29,146.58 L629.57,147.05 L629.85,147.52 L630.13,147.99 L630.41,148.45 L630.70,148.90 L630.98,149.36 L631.26,149.81 L631.54,150.26 L631.82,150.70 L632.10,151.14 L632.39,151.58 L632.67,152.02 L632.95,152.45 L633.23,152.88 L633.51,153.30 L633.79,153.73 L634.08,154.15 L634.36,154.56 L634.64,154.98 L634.92,155.39 L635.20,155.80 L635.48,156.21 L635.77,156.61 L636.05,157.01 L636.33,157.41 L636.61,157.80 L636.89,158.20 L637.17,158.59 L637.46,158.97 L637.74,159.36 L638.02,159.74 L638.30,160.12 L638.58,160.50 L638.86,160.88 L639.15,161.25 L639.43,161.62 L639.71,161.99 L639.99,162.36 L640.27,162.72 L640.55,163.08 L640.84,163.44 L641.12,163.80 L641.40,164.15 L641.68,164.50 L641.96,164.86 L642.24,165.20 L642.53,165.55 L642.81,165.89 L643.09,166.24 L643.37,166.58 L643.65,166.92 L643.93,167.25 L644.22,167.59 L644.50,167.92 L644.78,168.25 L645.06,168.58 L645.34,168.90 L645.62,169.23 L645.91,169.55 L646.19,169.87 L646.47,170.19 L646.75,170.51 L647.03,170.82 L647.31,171.14 L647.60,171.45 L647.88,171.76 L648.16,172.07 L648.44,172.37 L648.72,172.68 L649.00,172.98 L649.29,173.28 L649.57,173.58 L649.85,173.88 L650.13,174.18 L650.41,174.47 L650.69,174.77 L650.98,175.06 L651.26,175.35 L651.54,175.64 L651.82,175.93 L652.10,176.21 L652.38,176.49 L652.67,176.78 L652.95,177.06 L653.23,177.34 L653.51,177.62 L653.79,177.89 L654.07,178.17 L654.36,178.44 L654.64,178.72 L654.92,178.99 L655.20,179.26 L655.48,179.52 L655.76,179.79 L656.05,180.06 L656.33,180.32 L656.61,180.58 L656.89,180.85 L657.17,181.11 L657.45,181.37 L657.74,181.62 L658.02,181.88 L658.30,182.13 L658.58,182.39 L658.86,182.64 L659.14,182.89 L659.43,183.14 L659.71,183.39 L659.99,183.64 L660.27,183.89 L660.55,184.13 L660.83,184.38 L661.12,184.62 L661.40,184.86 L661.68,185.10 L661.96,185.34 L662.24,185.58 L662.52,185.82 L662.81,186.05 L663.09,186.29 L663.37,186.52 L663.65,186.76 L663.93,186.99 L664.21,187.22 L664.50,187.45 L664.78,187.68 L665.06,187.90 L665.34,188.13 L665.62,188.36 L665.90,188.58 L666.19,188.80 L666.47,189.03 L666.75,189.25 L667.03,189.47 L667.31,189.69 L667.59,189.91 L667.88,190.12 L668.16,190.34 L668.44,190.56 L668.72,190.77 L669.00,190.99 L669.28,191.20 L669.57,191.41 L669.85,191.62 L670.13,191.83 L670.41,192.04 L670.69,192.25 L670.97,192.46 L671.26,192.66 L671.54,192.87 L671.82,193.07 L672.10,193.28 L672.38,193.48 L672.66,193.68 L672.95,193.88 L673.23,194.08 L673.51,194.28 L673.79,194.48 L674.07,194.68 L674.35,194.88 L674.64,195.07 L674.92,195.27 L675.20,195.46 L675.48,195.65 L675.76,195.85 L676.04,196.04 L676.33,196.23 L676.61,196.42 L676.89,196.61 L677.17,196.80 L677.45,196.99 L677.73,197.18 L678.02,197.36 L678.30,197.55 L678.58,197.73 L678.86,197.92 L679.14,198.10 L679.42,198.29 L679.71,198.47 L679.99,198.65 L680.27,198.83 L680.55,199.01 L680.83,199.19 L681.11,199.37 L681.40,199.55 L681.68,199.72 L681.96,199.90 L682.24,200.08 L682.52,200.25 L682.80,200.43 L683.09,200.60 L683.37,200.77 L683.65,200.95 L683.93,201.12 L684.21,201.29 L684.49,201.46 L684.78,201.63 L685.06,201.80 L685.34,201.97 L685.62,202.13 L685.90,202.30 L686.18,202.47 L686.47,202.64 L686.75,202.80 L687.03,202.97 L687.31,203.13 L687.59,203.29 L687.87,203.46 L688.16,203.62 L688.44,203.78 L688.72,203.94 L689.00,204.10 L689.28,204.26 L689.56,204.42 L689.85,204.58 L690.13,204.74 L690.41,204.90 L690.69,205.05 L690.97,205.21 L691.25,205.37 L691.54,205.52 L691.82,205.68 L692.10,205.83 L692.38,205.99 L692.66,206.14 L692.94,206.29 L693.23,206.44 L693.51,206.59 L693.79,206.75 L694.07,206.90 L694.35,207.05 L694.63,207.20 L694.92,207.35 L695.20,207.49 L695.48,207.64 L695.76,207.79 L696.04,207.94 L696.32,208.08 L696.61,208.23 L696.89,208.37 L697.17,208.52 L697.45,208.66 L697.73,208.81 L698.01,208.95 L698.30,209.09 L698.58,209.24 L698.86,209.38 L699.14,209.52 L699.42,209.66 L699.70,209.80 L699.99,209.94 L700.27,210.08 L700.55,210.22 L700.83,210.36 L701.11,210.50 L701.39,210.63 L701.68,210.77 L701.96,210.91 L702.24,211.04 L702.52,211.18 L702.80,211.31 L703.08,211.45 L703.37,211.58 L703.65,211.72 L703.93,211.85 L704.21,211.99 L704.49,212.12 L704.77,212.25 L705.06,212.38 L705.34,212.51 L705.62,212.64 L705.90,212.78 L706.18,212.91 L706.46,213.04 L706.75,213.16 L707.03,213.29 L707.31,213.42 L707.59,213.55 L707.87,213.68 L708.15,213.81 L708.44,213.93 L708.72,214.06 L709.00,214.18 L709.28,214.31 L709.56,214.44 L709.84,214.56 L710.13,214.69 L710.41,214.81 L710.69,214.93 L710.97,215.06 L711.25,215.18 L711.53,215.30 L711.82,215.42 L712.10,215.55 L712.38,215.67 L712.66,215.79 L712.94,215.91 L713.22,216.03 L713.51,216.15 L713.79,216.27 L714.07,216.39 L714.35,216.51 L714.63,216.63 L714.91,216.74 L715.20,216.86 L715.48,216.98 L715.76,217.10 L716.04,217.21 L716.32,217.33 L716.60,217.45 L716.89,217.56 L717.17,217.68 L717.45,217.79 L717.73,217.91 L718.01,218.02 L718.29,218.13 L718.58,218.25 L718.86,218.36 L719.14,218.47 L719.42,218.59 L719.70,218.70 L719.98,218.81 L720.27,218.92 L720.55,219.03 L720.83,219.15 L721.11,219.26 L721.39,219.37 L721.67,219.48 L721.96,219.59 L722.24,219.70 L722.52,219.80 L722.80,219.91 L723.08,220.02 L723.36,220.13 L723.65,220.24 L723.93,220.34 L724.21,220.45 L724.49,220.56 L724.77,220.67 L725.05,220.77 L725.34,220.88 L725.62,220.98 L725.90,221.09 L726.18,221.19 L726.46,221.30 L726.74,221.40 L727.03,221.51 L727.31,221.61 L727.59,221.71 L727.87,221.82 L728.15,221.92 L728.43,222.02 L728.72,222.13 L729.00,222.23 L729.28,222.33 L729.56,222.43 L729.84,222.53 L730.12,222.63 L730.41,222.74 L730.69,222.84 L730.97,222.94 L731.25,223.04 L731.53,223.14 L731.81,223.23 L732.10,223.33 L732.38,223.43 L732.66,223.53 L732.94,223.63 L733.22,223.73 L733.50,223.83 L733.79,223.92 L734.07,224.02 L734.35,224.12 L734.63,224.21 L734.91,224.31 L735.19,224.41 L735.48,224.50 L735.76,224.60 L736.04,224.69 L736.32,224.79 L736.60,224.88 L736.88,224.98 L737.17,225.07 L737.45,225.17 L737.73,225.26 L738.01,225.35 L738.29,225.45 L738.57,225.54 L738.86,225.63 L739.14,225.73 L739.42,225.82 L739.70,225.91 L739.98,226.00 L740.26,226.10 L740.55,226.19 L740.83,226.28 L741.11,226.37 L741.39,226.46 L741.67,226.55 L741.95,226.64 L742.24,226.73 L742.52,226.82 L742.80,226.91 L743.08,227.00 L743.36,227.09 L743.64,227.18 L743.93,227.27 L744.21,227.35 L744.49,227.44 L744.77,227.53 L745.05,227.62 L745.33,227.71 L745.62,227.79 L745.90,227.88 L746.18,227.97 L746.46,228.05 L746.74,228.14 L747.02,228.23 L747.31,228.31 L747.59,228.40 L747.87,228.48 L748.15,228.57 L748.43,228.66 L748.71,228.74 L749.00,228.82 L749.28,228.91 L749.56,228.99 L749.84,229.08 L750.12,229.16 L750.40,229.25 L750.69,229.33 L750.97,229.41 L751.25,229.50 L751.53,229.58 L751.81,229.66 L752.09,229.74 L752.38,229.83 L752.66,229.91 L752.94,229.99 L753.22,230.07 L753.50,230.15 L753.78,230.23 L754.07,230.32 L754.35,230.40 L754.63,230.48 L754.91,230.56 L755.19,230.64 L755.47,230.72 L755.76,230.80 L756.04,230.88 L756.32,230.96 L756.60,231.04 L756.88,231.12 L757.16,231.19 L757.45,231.27 L757.73,231.35 L758.01,231.43 L758.29,231.51 L758.57,231.59 L758.85,231.66 L759.14,231.74 L759.42,231.82 L759.70,231.90 L759.98,231.97 L760.26,232.05 L760.54,232.13 L760.83,232.20 L761.11,232.28 L761.39,232.36 L761.67,232.43 L761.95,232.51 L762.23,232.58 L762.52,232.66 L762.80,232.74 L763.08,232.81 L763.36,232.89 L763.64,232.96 L763.92,233.04 L764.21,233.11 L764.49,233.18 L764.77,233.26 L765.05,233.33 L765.33,233.41 L765.61,233.48 L765.90,233.55 L766.18,233.63 L766.46,233.70 L766.74,233.77 L767.02,233.85 L767.30,233.92 L767.59,233.99 L767.87,234.06 L768.15,234.13 L768.43,234.21 L768.71,234.28 L768.99,234.35 L769.28,234.42 L769.56,234.49 L769.84,234.56 L770.12,234.64 L770.40,234.71 L770.68,234.78 L770.97,234.85 L771.25,234.92 L771.53,234.99 L771.81,235.06 L772.09,235.13 L772.37,235.20 L772.66,235.27 L772.94,235.34 L773.22,235.41 L773.50,235.48 L773.78,235.54 L774.06,235.61 L774.35,235.68 L774.63,235.75 L774.91,235.82 L775.19,235.89 L775.47,235.96 L775.75,236.02 L776.04,236.09 L776.32,236.16 L776.60,236.23 L776.88,236.29 L777.16,236.36 L777.44,236.43 L777.73,236.49 L778.01,236.56 L778.29,236.63 L778.57,236.69 L778.85,236.76 L779.13,236.83 L779.42,236.89 L779.70,236.96 L779.98,237.02 L780.26,237.09 L780.54,237.16 L780.82,237.22 L781.11,237.29 L781.39,237.35 L781.67,237.42 L781.95,237.48 L782.23,237.55 L782.51,237.61 L782.80,237.67 L783.08,237.74 L783.36,237.80 L783.64,237.87 L783.92,237.93 L784.20,237.99 L784.49,238.06 L784.77,238.12 L785.05,238.18 L785.33,238.25 L785.61,238.31 L785.89,238.37 L786.18,238.44 L786.46,238.50 L786.74,238.56 L787.02,238.62 L787.30,238.69 L787.59,238.75 L787.87,238.81 L788.15,238.87 L788.43,238.93 L788.71,239.00 L788.99,239.06 L789.28,239.12 L789.56,239.18 L789.84,239.24 L790.12,239.30 L790.40,239.36 L790.68,239.42 L790.97,239.48 L791.25,239.54 L791.53,239.61 L791.81,239.67 L792.09,239.73 L792.37,239.79 L792.66,239.85 L792.94,239.91 L793.22,239.96 L793.50,240.02 L793.78,240.08 L794.06,240.14 L794.35,240.20 L794.63,240.26 L794.91,240.32 L795.19,240.38 L795.47,240.44 L795.75,240.50 L796.04,240.55 L796.32,240.61 L796.60,240.67 L796.88,240.73 L797.16,240.79 L797.44,240.85 L797.73,240.90 L798.01,240.96 L798.29,241.02 L798.57,241.08 L798.85,241.13 L799.13,241.19 L799.42,241.25 L799.70,241.30 L799.98,241.36 L800.26,241.42 L800.54,241.47 L800.82,241.53 L801.11,241.59 L801.39,241.64 L801.67,241.70 L801.95,241.76 L802.23,241.81 L802.51,241.87 L802.80,241.92 L803.08,241.98 L803.36,242.03 L803.64,242.09 L803.92,242.15 L804.20,242.20 L804.49,242.26 L804.77,242.31 L805.05,242.37 L805.33,242.42 L805.61,242.48 L805.89,242.53 L806.18,242.58 L806.46,242.64 L806.74,242.69 L807.02,242.75 L807.30,242.80 L807.58,242.85 L807.87,242.91 L808.15,242.96 L808.43,243.02 L808.71,243.07 L808.99,243.12 L809.27,243.18 L809.56,243.23 L809.84,243.28 L810.12,243.34 L810.40,243.39 L810.68,243.44 L810.96,243.49 L811.25,243.55 L811.53,243.60 L811.81,243.65 L812.09,243.70 L812.37,243.76 L812.65,243.81 L812.94,243.86 L813.22,243.91 L813.50,243.96 L813.78,244.02 L814.06,244.07 L814.34,244.12 L814.63,244.17 L814.91,244.22 L815.19,244.27 L815.47,244.32 L815.75,244.38 L816.03,244.43 L816.32,244.48 L816.60,244.53 L816.88,244.58 L817.16,244.63 L817.44,244.68 L817.72,244.73 L818.01,244.78 L818.29,244.83 L818.57,244.88 L818.85,244.93 L819.13,244.98 L819.41,245.03 L819.70,245.08 L819.98,245.13 L820.26,245.18 L820.54,245.23 L820.82,245.28 L821.10,245.33 L821.39,245.38 L821.67,245.43 L821.95,245.48 L822.23,245.53 L822.51,245.57 L822.79,245.62 L823.08,245.67 L823.36,245.72 L823.64,245.77 L823.92,245.82 L824.20,245.87 L824.48,245.91 L824.77,245.96 L825.05,246.01 L825.33,246.06 L825.61,246.11 L825.89,246.15 L826.17,246.20 L826.46,246.25 L826.74,246.30 L827.02,246.34 L827.30,246.39 L827.58,246.44 L827.86,246.49 L828.15,246.53 L828.43,246.58 L828.71,246.63 L828.99,246.68 L829.27,246.72 L829.55,246.77 L829.84,246.82 L830.12,246.86 L830.40,246.91 L830.68,246.95 L830.96,247.00 L831.24,247.05 L831.53,247.09 L831.81,247.14 L832.09,247.19 L832.37,247.23 L832.65,247.28 L832.93,247.32 L833.22,247.37 L833.50,247.41 L833.78,247.46 L834.06,247.51 L834.34,247.55 L834.62,247.60 L834.91,247.64 L835.19,247.69 L835.47,247.73 L835.75,247.78 L836.03,247.82 L836.31,247.87 L836.60,247.91 L836.88,247.96 L837.16,248.00 L837.44,248.05 L837.72,248.09 L838.00,248.13 L838.29,248.18 L838.57,248.22 L838.85,248.27 L839.13,248.31 L839.41,248.36 L839.69,248.40 L839.98,248.44 L840.26,248.49 L840.54,248.53 L840.82,248.57 L841.10,248.62 L841.38,248.66 L841.67,248.70 L841.95,248.75 L842.23,248.79 L842.51,248.83 L842.79,248.88 L843.07,248.92 L843.36,248.96 L843.64,249.01 L843.92,249.05 L844.20,249.09 L844.48,249.14 L844.76,249.18 L845.05,249.22 L845.33,249.26 L845.61,249.31 L845.89,249.35 L846.17,249.39 L846.45,249.43 L846.74,249.47 L847.02,249.52 L847.30,249.56 L847.58,249.60 L847.86,249.64 L848.14,249.68 L848.43,249.73 L848.71,249.77 L848.99,249.81 L849.27,249.85 L849.55,249.89 L849.83,249.93 L850.12,249.97 L850.40,250.02 L850.68,250.06 L850.96,250.10 L851.24,250.14 L851.52,250.18 L851.81,250.22 L852.09,250.26 L852.37,250.30 L852.65,250.34 L852.93,250.38 L853.21,250.42 L853.50,250.46 L853.78,250.51 L854.06,250.55 L854.34,250.59 L854.62,250.63 L854.90,250.67 L855.19,250.71 L855.47,250.75 L855.75,250.79 L856.03,250.83 L856.31,250.87 L856.59,250.91 L856.88,250.95 L857.16,250.99 L857.44,251.03 L857.72,251.06 L858.00,251.10 L858.28,251.14 L858.57,251.18 L858.85,251.22 L859.13,251.26 L859.41,251.30 L859.69,251.34 L859.97,251.38 L860.26,251.42 L860.54,251.46 L860.82,251.50 L861.10,251.53 L861.38,251.57 L861.66,251.61 L861.95,251.65 L862.23,251.69 L862.51,251.73 L862.79,251.77 L863.07,251.80 L863.35,251.84 L863.64,251.88 L863.92,251.92 L864.20,251.96 L864.48,252.00 L864.76,252.03 L865.04,252.07 L865.33,252.11 L865.61,252.15 L865.89,252.18 L866.17,252.22 L866.45,252.26 L866.73,252.30 L867.02,252.34 L867.30,252.37 L867.58,252.41 L867.86,252.45 L868.14,252.48 L868.42,252.52 L868.71,252.56 L868.99,252.60 L869.27,252.63 L869.55,252.67 L869.83,252.71 L870.11,252.74 L870.40,252.78 L870.68,252.82 L870.96,252.85 L871.24,252.89 L871.52,252.93 L871.80,252.96 L872.09,253.00 L872.37,253.04 L872.65,253.07 L872.93,253.11 L873.21,253.15 L873.49,253.18 L873.78,253.22 L874.06,253.26 L874.34,253.29 L874.62,253.33 L874.90,253.36 L875.18,253.40 L875.47,253.43 L875.75,253.47 L876.03,253.51 L876.31,253.54 L876.59,253.58 L876.87,253.61 L877.16,253.65 L877.44,253.68 L877.72,253.72 L878.00,253.76 L878.28,253.79 L878.56,253.83 L878.85,253.86 L879.13,253.90 L879.41,253.93 L879.69,253.97 L879.97,254.00 L880.25,254.04 L880.54,254.07 L880.82,254.11 L881.10,254.14 L881.38,254.18 L881.66,254.21 L881.94,254.24 L882.23,254.28 L882.51,254.31 L882.79,254.35 L883.07,254.38 L883.35,254.42 L883.63,254.45 L883.92,254.49 L884.20,254.52 L884.48,254.55 L884.76,254.59 L885.04,254.62 L885.32,254.66 L885.61,254.69 L885.89,254.72 L886.17,254.76 L886.45,254.79 L886.73,254.83 L887.01,254.86 L887.30,254.89 L887.58,254.93 L887.86,254.96 L888.14,254.99 L888.42,255.03 L888.70,255.06 L888.99,255.09 L889.27,255.13 L889.55,255.16 L889.83,255.19 L890.11,255.23 L890.39,255.26 L890.68,255.29 L890.96,255.33 L891.24,255.36 L891.52,255.39 L891.80,255.43 L892.08,255.46 L892.37,255.49 L892.65,255.52 L892.93,255.56 L893.21,255.59 L893.49,255.62 L893.77,255.65 L894.06,255.69 L894.34,255.72 L894.62,255.75 L894.90,255.78 L895.18,255.82 L895.46,255.85 L895.75,255.88 L896.03,255.91 L896.31,255.95 L896.59,255.98 L896.87,256.01 L897.15,256.04 L897.44,256.07 L897.72,256.11 L898.00,256.14 L898.28,256.17 L898.56,256.20 L898.84,256.23 L899.13,256.26 L899.41,256.30 L899.69,256.33 L899.97,256.36 L900.25,256.39 L900.53,256.42 L900.82,256.45 L901.10,256.49 L901.38,256.52 L901.66,256.55 L901.94,256.58 L902.22,256.61 L902.51,256.64 L902.79,256.67 L903.07,256.70 L903.35,256.73 L903.63,256.77 L903.91,256.80 L904.20,256.83 L904.48,256.86 L904.76,256.89 L905.04,256.92 L905.32,256.95 L905.60,256.98 L905.89,257.01 L906.17,257.04 L906.45,257.07 L906.73,257.10 L907.01,257.13 L907.29,257.16 L907.58,257.20 L907.86,257.23 L908.14,257.26 L908.42,257.29 L908.70,257.32 L908.98,257.35 L909.27,257.38 L909.55,257.41 L909.83,257.44 L910.11,257.47 L910.39,257.50 L910.67,257.53 L910.96,257.56 L911.24,257.59 L911.52,257.62 L911.80,257.65 L912.08,257.68 L912.36,257.71 L912.65,257.74 L912.93,257.76 L913.21,257.79 L913.49,257.82 L913.77,257.85 L914.05,257.88 L914.34,257.91 L914.62,257.94 L914.90,257.97 L915.18,258.00 L915.46,258.03 L915.74,258.06 L916.03,258.09 L916.31,258.12 L916.59,258.15 L916.87,258.18 L917.15,258.20 L917.43,258.23 L917.72,258.26 L918.00,258.29 L918.28,258.32 L918.56,258.35 L918.84,258.38 L919.12,258.41 L919.41,258.44 L919.69,258.46 L919.97,258.49 L920.25,258.52 L920.53,258.55 L920.81,258.58 L921.10,258.61 L921.38,258.63 L921.66,258.66 L921.94,258.69 L922.22,258.72 L922.50,258.75 L922.79,258.78 L923.07,258.80 L923.35,258.83 L923.63,258.86 L923.91,258.89 L924.19,258.92 L924.48,258.95 L924.76,258.97 L925.04,259.00 L925.32,259.03 L925.60,259.06 L925.88,259.08 L926.17,259.11 L926.45,259.14 L926.73,259.17 L927.01,259.20 L927.29,259.22 L927.57,259.25 L927.86,259.28 L928.14,259.31 L928.42,259.33 L928.70,259.36 L928.98,259.39 L929.26,259.42 L929.55,259.44 L929.83,259.47 L930.11,259.50 L930.39,259.53 L930.67,259.55 L930.95,259.58 L931.24,259.61 L931.52,259.63 L931.80,259.66 L932.08,259.69 L932.36,259.72 L932.64,259.74 L932.93,259.77 L933.21,259.80 L933.49,259.82 L933.77,259.85 L934.05,259.88 L934.33,259.90 L934.62,259.93 L934.90,259.96 L935.18,259.98 L935.46,260.01 L935.74,260.04 L936.02,260.06 L936.31,260.09 L936.59,260.12 L936.87,260.14 L937.15,260.17 L937.43,260.20 L937.71,260.22 L938.00,260.25 L938.28,260.28 L938.56,260.30 L938.84,260.33 L939.12,260.35 L939.40,260.38 L939.69,260.41 L939.97,260.43 L940.25,260.46 L940.53,260.48 L940.81,260.51 L941.09,260.54 L941.38,260.56 L941.66,260.59 L941.94,260.61 L942.22,260.64 L942.50,260.67 L942.78,260.69 L943.07,260.72 L943.35,260.74 L943.63,260.77 L943.91,260.79 L944.19,260.82 L944.47,260.85 L944.76,260.87 L945.04,260.90 L945.32,260.92 L945.60,260.95 L945.88,260.97 L946.16,261.00 L946.45,261.02 L946.73,261.05 L947.01,261.07 L947.29,261.10 L947.57,261.12 L947.85,261.15 L948.14,261.17 L948.42,261.20 L948.70,261.23 L948.98,261.25 L949.26,261.28 L949.54,261.30 L949.83,261.33 L950.11,261.35 L950.39,261.38 L950.67,261.40 L950.95,261.42 L951.23,261.45 L951.52,261.47 L951.80,261.50 L952.08,261.52 L952.36,261.55 L952.64,261.57 L952.92,261.60 L953.21,261.62 L953.49,261.65 L953.77,261.67 L954.05,261.70 L954.33,261.72 L954.61,261.75 L954.90,261.77 L955.18,261.79 L955.46,261.82 L955.74,261.84 L956.02,261.87 L956.30,261.89 L956.59,261.92 L956.87,261.94 L957.15,261.96 L957.43,261.99 L957.71,262.01 L957.99,262.04 L958.28,262.06 L958.56,262.08 L958.84,262.11 L959.12,262.13 L959.40,262.16 L959.68,262.18 L959.97,262.20 L960.25,262.23 L960.53,262.25 L960.81,262.28 L961.09,262.30 L961.37,262.32 L961.66,262.35 L961.94,262.37 L962.22,262.39 L962.50,262.42 L962.78,262.44 L963.06,262.47 L963.35,262.49 L963.63,262.51 L963.91,262.54 L964.19,262.56 L964.47,262.58 L964.75,262.61 L965.04,262.63 L965.32,262.65 L965.60,262.68 L965.88,262.70 L966.16,262.72 L966.44,262.75 L966.73,262.77 L967.01,262.79 L967.29,262.82 L967.57,262.84 L967.85,262.86 L968.13,262.89 L968.42,262.91 L968.70,262.93 L968.98,262.95 L969.26,262.98 L969.54,263.00 L969.82,263.02 L970.11,263.05 L970.39,263.07 L970.67,263.09 L970.95,263.11 L971.23,263.14 L971.51,263.16 L971.80,263.18 L972.08,263.21 L972.36,263.23 L972.64,263.25 L972.92,263.27 L973.20,263.30 L973.49,263.32 L973.77,263.34 L974.05,263.36 L974.33,263.39 L974.61,263.41 L974.89,263.43 L975.18,263.45 L975.46,263.48 L975.74,263.50 L976.02,263.52 L976.30,263.54 L976.58,263.57 L976.87,263.59 L977.15,263.61 L977.43,263.63 L977.71,263.65 L977.99,263.68 L978.27,263.70 L978.56,263.72 L978.84,263.74 L979.12,263.76 L979.40,263.79 L979.68,263.81 L979.96,263.83 L980.25,263.85 L980.53,263.87 L980.81,263.90 L981.09,263.92 L981.37,263.94 L981.65,263.96 L981.94,263.98 L982.22,264.01 L982.50,264.03 L982.78,264.05 L983.06,264.07 L983.34,264.09 L983.63,264.11 L983.91,264.14 L984.19,264.16 L984.47,264.18 L984.75,264.20 L985.03,264.22 L985.32,264.24 L985.60,264.27 L985.88,264.29 L986.16,264.31 L986.44,264.33 L986.72,264.35 L987.01,264.37 L987.29,264.39 L987.57,264.41 L987.85,264.44 L988.13,264.46 L988.41,264.48 L988.70,264.50 L988.98,264.52 L989.26,264.54 L989.54,264.56 L989.82,264.58 L990.10,264.61 L990.39,264.63 L990.67,264.65 L990.95,264.67 L991.23,264.69 L991.51,264.71 L991.79,264.73 L992.08,264.75 L992.36,264.77 L992.64,264.79 L992.92,264.81 L993.20,264.84 L993.48,264.86 L993.77,264.88 L994.05,264.90 L994.33,264.92 L994.61,264.94 L994.89,264.96 L995.17,264.98 L995.46,265.00 L995.74,265.02 L996.02,265.04 L996.30,265.06 L996.58,265.08 L996.86,265.10 L997.15,265.12 L997.43,265.15 L997.71,265.17 L997.99,265.19 L998.27,265.21 L998.55,265.23 L998.84,265.25 L999.12,265.27 L999.40,265.29" stroke="#ff0000" stroke-width="1.5" fill="none"/>
<path clip-path="url(#cr)" d="M576.90,-2209.94 L577.18,-1855.50 L577.46,-1613.60 L577.74,-1435.05 L578.02,-1296.32 L578.31,-1184.53 L578.59,-1091.97 L578.87,-1013.69 L579.15,-946.37 L579.43,-887.68 L579.71,-835.92 L580.00,-789.83 L580.28,-748.44 L580.56,-711.02 L580.84,-676.97 L581.12,-645.80 L581.40,-617.15 L581.69,-590.68 L581.97,-566.14 L582.25,-543.31 L582.53,-521.99 L582.81,-502.02 L583.09,-483.28 L583.38,-465.63 L583.66,-448.98 L583.94,-433.24 L584.22,-418.33 L584.50,-404.18 L584.78,-390.72 L585.07,-377.91 L585.35,-365.69 L585.63,-354.02 L585.91,-342.85 L586.19,-332.16 L586.47,-321.91 L586.76,-312.08 L587.04,-302.62 L587.32,-293.53 L587.60,-284.78 L587.88,-276.35 L588.16,-268.22 L588.45,-260.37 L588.73,-252.78 L589.01,-245.45 L589.29,-238.36 L589.57,-231.49 L589.85,-224.84 L590.14,-218.39 L590.42,-212.13 L590.70,-206.06 L590.98,-200.16 L591.26,-194.43 L591.54,-188.87 L591.83,-183.45 L592.11,-178.18 L592.39,-173.05 L592.67,-168.05 L592.95,-163.18 L593.23,-158.43 L593.52,-153.80 L593.80,-149.28 L594.08,-144.87 L594.36,-140.57 L594.64,-136.36 L594.92,-132.25 L595.21,-128.24 L595.49,-124.31 L595.77,-120.47 L596.05,-116.71 L596.33,-113.03 L596.61,-109.44 L596.90,-105.91 L597.18,-102.46 L597.46,-99.08 L597.74,-95.76 L598.02,-92.51 L598.30,-89.33 L598.59,-86.20 L598.87,-83.14 L599.15,-80.13 L599.43,-77.18 L599.71,-74.28 L599.99,-71.44 L600.28,-68.64 L600.56,-65.90 L600.84,-63.20 L601.12,-60.55 L601.40,-57.95 L601.68,-55.39 L601.97,-52.87 L602.25,-50.40 L602.53,-47.97 L602.81,-45.57 L603.09,-43.22 L603.37,-40.90 L603.66,-38.62 L603.94,-36.37 L604.22,-34.16 L604.50,-31.98 L604.78,-29.84 L605.06,-27.73 L605.35,-25.65 L605.63,-23.60 L605.91,-21.58 L606.19,-19.59 L606.47,-17.62 L606.75,-15.69 L607.04,-13.78 L607.32,-11.90 L607.60,-10.05 L607.88,-8.22 L608.16,-6.42 L608.44,-4.64 L608.73,-2.88 L609.01,-1.15 L609.29,0.56 L609.57,2.24 L609.85,3.91 L610.13,5.55 L610.42,7.18 L610.70,8.78 L610.98,10.36 L611.26,11.92 L611.54,13.46 L611.82,14.99 L612.11,16.49 L612.39,17.98 L612.67,19.45 L612.95,20.90 L613.23,22.34 L613.51,23.75 L613.80,25.16 L614.08,26.54 L614.36,27.91 L614.64,29.26 L614.92,30.60 L615.20,31.92 L615.49,33.23 L615.77,34.53 L616.05,35.81 L616.33,37.07 L616.61,38.32 L616.89,39.56 L617.18,40.79 L617.46,42.00 L617.74,43.20 L618.02,44.39 L618.30,45.56 L618.58,46.72 L618.87,47.87 L619.15,49.01 L619.43,50.14 L619.71,51.25 L619.99,52.36 L620.27,53.45 L620.56,54.53 L620.84,55.60 L621.12,56.66 L621.40,57.71 L621.68,58.75 L621.96,59.78 L622.25,60.81 L622.53,61.82 L622.81,62.82 L623.09,63.81 L623.37,64.79 L623.65,65.76 L623.94,66.73 L624.22,67.68 L624.50,68.63 L624.78,69.57 L625.06,70.50 L625.34,71.42 L625.63,72.33 L625.91,73.24 L626.19,74.13 L626.47,75.02 L626.75,75.90 L627.03,76.78 L627.32,77.64 L627.60,78.50 L627.88,79.35 L628.16,80.20 L628.44,81.03 L628.72,81.86 L629.01,82.69 L629.29,83.50 L629.57,84.31 L629.85,85.11 L630.13,85.91 L630.41,86.70 L630.70,87.48 L630.98,88.26 L631.26,89.03 L631.54,89.79 L631.82,90.55 L632.10,91.30 L632.39,92.05 L632.67,92.79 L632.95,93.52 L633.23,94.25 L633.51,94.97 L633.79,95.69 L634.08,96.40 L634.36,97.10 L634.64,97.81 L634.92,98.50 L635.20,99.19 L635.48,99.88 L635.77,100.56 L636.05,101.23 L636.33,101.90 L636.61,102.56 L636.89,103.22 L637.17,103.88 L637.46,104.53 L637.74,105.18 L638.02,105.82 L638.30,106.45 L638.58,107.08 L638.86,107.71 L639.15,108.33 L639.43,108.95 L639.71,109.57 L639.99,110.18 L640.27,110.78 L640.55,111.38 L640.84,111.98 L641.12,112.57 L641.40,113.16 L641.68,113.75 L641.96,114.33 L642.24,114.90 L642.53,115.48 L642.81,116.05 L643.09,116.61 L643.37,117.17 L643.65,117.73 L643.93,118.28 L644.22,118.83 L644.50,119.38 L644.78,119.92 L645.06,120.46 L645.34,121.00 L645.62,121.53 L645.91,122.06 L646.19,122.59 L646.47,123.11 L646.75,123.63 L647.03,124.14 L647.31,124.66 L647.60,125.17 L647.88,125.67 L648.16,126.18 L648.44,126.68 L648.72,127.17 L649.00,127.67 L649.29,128.16 L649.57,128.64 L649.85,129.13 L650.13,129.61 L650.41,130.09 L650.69,130.56 L650.98,131.04 L651.26,131.51 L651.54,131.97 L651.82,132.44 L652.10,132.90 L652.38,133.36 L652.67,133.82 L652.95,134.27 L653.23,134.72 L653.51,135.17 L653.79,135.61 L654.07,136.06 L654.36,136.50 L654.64,136.94 L654.92,137.37 L655.20,137.80 L655.48,138.23 L655.76,138.66 L656.05,139.09 L656.33,139.51 L656.61,139.93 L656.89,140.35 L657.17,140.77 L657.45,141.18 L657.74,141.59 L658.02,142.00 L658.30,142.41 L658.58,142.81 L658.86,143.22 L659.14,143.62 L659.43,144.01 L659.71,144.41 L659.99,144.80 L660.27,145.20 L660.55,145.58 L660.83,145.97 L661.12,146.36 L661.40,146.74 L661.68,147.12 L661.96,147.50 L662.24,147.88 L662.52,148.25 L662.81,148.63 L663.09,149.00 L663.37,149.37 L663.65,149.74 L663.93,150.10 L664.21,150.46 L664.50,150.83 L664.78,151.19 L665.06,151.54 L665.34,151.90 L665.62,152.25 L665.90,152.61 L666.19,152.96 L666.47,153.31 L666.75,153.65 L667.03,154.00 L667.31,154.34 L667.59,154.69 L667.88,155.03 L668.16,155.37 L668.44,155.70 L668.72,156.04 L669.00,156.37 L669.28,156.70 L669.57,157.03 L669.85,157.36 L670.13,157.69 L670.41,158.02 L670.69,158.34 L670.97,158.66 L671.26,158.98 L671.54,159.30 L671.82,159.62 L672.10,159.94 L672.38,160.25 L672.66,160.57 L672.95,160.88 L673.23,161.19 L673.51,161.50 L673.79,161.80 L674.07,162.11 L674.35,162.42 L674.64,162.72 L674.92,163.02 L675.20,163.32 L675.48,163.62 L675.76,163.92 L676.04,164.21 L676.33,164.51 L676.61,164.80 L676.89,165.09 L677.17,165.39 L677.45,165.68 L677.73,165.96 L678.02,166.25 L678.30,166.54 L678.58,166.82 L678.86,167.10 L679.14,167.39 L679.42,167.67 L679.71,167.95 L679.99,168.22 L680.27,168.50 L680.55,168.78 L680.83,169.05 L681.11,169.32 L681.40,169.60 L681.68,169.87 L681.96,170.14 L682.24,170.41 L682.52,170.67 L682.80,170.94 L683.09,171.20 L683.37,171.47 L683.65,171.73 L683.93,171.99 L684.21,172.25 L684.49,172.51 L684.78,172.77 L685.06,173.03 L685.34,173.28 L685.62,173.54 L685.90,173.79 L686.18,174.05 L686.47,174.30 L686.75,174.55 L687.03,174.80 L687.31,175.05 L687.59,175.30 L687.87,175.54 L688.16,175.79 L688.44,176.03 L688.72,176.28 L689.00,176.52 L689.28,176.76 L689.56,177.00 L689.85,177.24 L690.13,177.48 L690.41,177.72 L690.69,177.95 L690.97,178.19 L691.25,178.42 L691.54,178.66 L691.82,178.89 L692.10,179.12 L692.38,179.35 L692.66,179.59 L692.94,179.81 L693.23,180.04 L693.51,180.27 L693.79,180.50 L694.07,180.72 L694.35,180.95 L694.63,181.17 L694.92,181.39 L695.20,181.62 L695.48,181.84 L695.76,182.06 L696.04,182.28 L696.32,182.50 L696.61,182.72 L696.89,182.93 L697.17,183.15 L697.45,183.36 L697.73,183.58 L698.01,183.79 L698.30,184.01 L698.58,184.22 L698.86,184.43 L699.14,184.64 L699.42,184.85 L699.70,185.06 L699.99,185.27 L700.27,185.47 L700.55,185.68 L700.83,185.89 L701.11,186.09 L701.39,186.30 L701.68,186.50 L701.96,186.70 L702.24,186.90 L702.52,187.11 L702.80,187.31 L703.08,187.51 L703.37,187.71 L703.65,187.90 L703.93,188.10 L704.21,188.30 L704.49,188.49 L704.77,188.69 L705.06,188.89 L705.34,189.08 L705.62,189.27 L705.90,189.47 L706.18,189.66 L706.46,189.85 L706.75,190.04 L707.03,190.23 L707.31,190.42 L707.59,190.61 L707.87,190.80 L708.15,190.98 L708.44,191.17 L708.72,191.36 L709.00,191.54 L709.28,191.73 L709.56,191.91 L709.84,192.09 L710.13,192.28 L710.41,192.46 L710.69,192.64 L710.97,192.82 L711.25,193.00 L711.53,193.18 L711.82,193.36 L712.10,193.54 L712.38,193.72 L712.66,193.89 L712.94,194.07 L713.22,194.24 L713.51,194.42 L713.79,194.59 L714.07,194.77 L714.35,194.94 L714.63,195.12 L714.91,195.29 L715.20,195.46 L715.48,195.63 L715.76,195.80 L716.04,195.97 L716.32,196.14 L716.60,196.31 L716.89,196.48 L717.17,196.65 L717.45,196.81 L717.73,196.98 L718.01,197.15 L718.29,197.31 L718.58,197.48 L718.86,197.64 L719.14,197.81 L719.42,197.97 L719.70,198.13 L719.98,198.29 L720.27,198.46 L720.55,198.62 L720.83,198.78 L721.11,198.94 L721.39,199.10 L721.67,199.26 L721.96,199.42 L722.24,199.57 L722.52,199.73 L722.80,199.89 L723.08,200.05 L723.36,200.20 L723.65,200.36 L723.93,200.51 L724.21,200.67 L724.49,200.82 L724.77,200.98 L725.05,201.13 L725.34,201.28 L725.62,201.43 L725.90,201.59 L726.18,201.74 L726.46,201.89 L726.74,202.04 L727.03,202.19 L727.31,202.34 L727.59,202.49 L727.87,202.64 L728.15,202.78 L728.43,202.93 L728.72,203.08 L729.00,203.22 L729.28,203.37 L729.56,203.52 L729.84,203.66 L730.12,203.81 L730.41,203.95 L730.69,204.10 L730.97,204.24 L731.25,204.38 L731.53,204.52 L731.81,204.67 L732.10,204.81 L732.38,204.95 L732.66,205.09 L732.94,205.23 L733.22,205.37 L733.50,205.51 L733.79,205.65 L734.07,205.79 L734.35,205.93 L734.63,206.07 L734.91,206.20 L735.19,206.34 L735.48,206.48 L735.76,206.61 L736.04,206.75 L736.32,206.89 L736.60,207.02 L736.88,207.16 L737.17,207.29 L737.45,207.42 L737.73,207.56 L738.01,207.69 L738.29,207.82 L738.57,207.96 L738.86,208.09 L739.14,208.22 L739.42,208.35 L739.70,208.48 L739.98,208.61 L740.26,208.74 L740.55,208.87 L740.83,209.00 L741.11,209.13 L741.39,209.26 L741.67,209.39 L741.95,209.52 L742.24,209.64 L742.52,209.77 L742.80,209.90 L743.08,210.02 L743.36,210.15 L743.64,210.28 L743.93,210.40 L744.21,210.53 L744.49,210.65 L744.77,210.78 L745.05,210.90 L745.33,211.02 L745.62,211.15 L745.90,211.27 L746.18,211.39 L746.46,211.51 L746.74,211.64 L747.02,211.76 L747.31,211.88 L747.59,212.00 L747.87,212.12 L748.15,212.24 L748.43,212.36 L748.71,212.48 L749.00,212.60 L749.28,212.72 L749.56,212.84 L749.84,212.96 L750.12,213.07 L750.40,213.19 L750.69,213.31 L750.97,213.43 L751.25,213.54 L751.53,213.66 L751.81,213.77 L752.09,213.89 L752.38,214.01 L752.66,214.12 L752.94,214.24 L753.22,214.35 L753.50,214.46 L753.78,214.58 L754.07,214.69 L754.35,214.80 L754.63,214.92 L754.91,215.03 L755.19,215.14 L755.47,215.26 L755.76,215.37 L756.04,215.48 L756.32,215.59 L756.60,215.70 L756.88,215.81 L757.16,215.92 L757.45,216.03 L757.73,216.14 L758.01,216.25 L758.29,216.36 L758.57,216.47 L758.85,216.58 L759.14,216.69 L759.42,216.79 L759.70,216.90 L759.98,217.01 L760.26,217.12 L760.54,217.22 L760.83,217.33 L761.11,217.44 L761.39,217.54 L761.67,217.65 L761.95,217.75 L762.23,217.86 L762.52,217.96 L762.80,218.07 L763.08,218.17 L763.36,218.28 L763.64,218.38 L763.92,218.48 L764.21,218.59 L764.49,218.69 L764.77,218.79 L765.05,218.90 L765.33,219.00 L765.61,219.10 L765.90,219.20 L766.18,219.30 L766.46,219.40 L766.74,219.51 L767.02,219.61 L767.30,219.71 L767.59,219.81 L767.87,219.91 L768.15,220.01 L768.43,220.11 L768.71,220.21 L768.99,220.30 L769.28,220.40 L769.56,220.50 L769.84,220.60 L770.12,220.70 L770.40,220.80 L770.68,220.89 L770.97,220.99 L771.25,221.09 L771.53,221.19 L771.81,221.28 L772.09,221.38 L772.37,221.47 L772.66,221.57 L772.94,221.67 L773.22,221.76 L773.50,221.86 L773.78,221.95 L774.06,222.05 L774.35,222.14 L774.63,222.24 L774.91,222.33 L775.19,222.42 L775.47,222.52 L775.75,222.61 L776.04,222.70 L776.32,222.80 L776.60,222.89 L776.88,222.98 L777.16,223.07 L777.44,223.17 L777.73,223.26 L778.01,223.35 L778.29,223.44 L778.57,223.53 L778.85,223.62 L779.13,223.71 L779.42,223.80 L779.70,223.89 L779.98,223.98 L780.26,224.07 L780.54,224.16 L780.82,224.25 L781.11,224.34 L781.39,224.43 L781.67,224.52 L781.95,224.61 L782.23,224.70 L782.51,224.79 L782.80,224.87 L783.08,224.96 L783.36,225.05 L783.64,225.14 L783.92,225.22 L784.20,225.31 L784.49,225.40 L784.77,225.48 L785.05,225.57 L785.33,225.66 L785.61,225.74 L785.89,225.83 L786.18,225.91 L786.46,226.00 L786.74,226.09 L787.02,226.17 L787.30,226.25 L787.59,226.34 L787.87,226.42 L788.15,226.51 L788.43,226.59 L788.71,226.68 L788.99,226.76 L789.28,226.84 L789.56,226.93 L789.84,227.01 L790.12,227.09 L790.40,227.18 L790.68,227.26 L790.97,227.34 L791.25,227.42 L791.53,227.50 L791.81,227.59 L792.09,227.67 L792.37,227.75 L792.66,227.83 L792.94,227.91 L793.22,227.99 L793.50,228.07 L793.78,228.15 L794.06,228.23 L794.35,228.31 L794.63,228.39 L794.91,228.47 L795.19,228.55 L795.47,228.63 L795.75,228.71 L796.04,228.79 L796.32,228.87 L796.60,228.95 L796.88,229.03 L797.16,229.11 L797.44,229.18 L797.73,229.26 L798.01,229.34 L798.29,229.42 L798.57,229.50 L798.85,229.57 L799.13,229.65 L799.42,229.73 L799.70,229.80 L799.98,229.88 L800.26,229.96 L800.54,230.03 L800.82,230.11 L801.11,230.19 L801.39,230.26 L801.67,230.34 L801.95,230.41 L802.23,230.49 L802.51,230.56 L802.80,230.64 L803.08,230.71 L803.36,230.79 L803.64,230.86 L803.92,230.94 L804.20,231.01 L804.49,231.09 L804.77,231.16 L805.05,231.23 L805.33,231.31 L805.61,231.38 L805.89,231.46 L806.18,231.53 L806.46,231.60 L806.74,231.67 L807.02,231.75 L807.30,231.82 L807.58,231.89 L807.87,231.96 L808.15,232.04 L808.43,232.11 L808.71,232.18 L808.99,232.25 L809.27,232.32 L809.56,232.40 L809.84,232.47 L810.12,232.54 L810.40,232.61 L810.68,232.68 L810.96,232.75 L811.25,232.82 L811.53,232.89 L811.81,232.96 L812.09,233.03 L812.37,233.10 L812.65,233.17 L812.94,233.24 L813.22,233.31 L813.50,233.38 L813.78,233.45 L814.06,233.52 L814.34,233.59 L814.63,233.66 L814.91,233.72 L815.19,233.79 L815.47,233.86 L815.75,233.93 L816.03,234.00 L816.32,234.06 L816.60,234.13 L816.88,234.20 L817.16,234.27 L817.44,234.34 L817.72,234.40 L818.01,234.47 L818.29,234.54 L818.57,234.60 L818.85,234.67 L819.13,234.74 L819.41,234.80 L819.70,234.87 L819.98,234.94 L820.26,235.00 L820.54,235.07 L820.82,235.13 L821.10,235.20 L821.39,235.26 L821.67,235.33 L821.95,235.40 L822.23,235.46 L822.51,235.53 L822.79,235.59 L823.08,235.66 L823.36,235.72 L823.64,235.78 L823.92,235.85 L824.20,235.91 L824.48,235.98 L824.77,236.04 L825.05,236.11 L825.33,236.17 L825.61,236.23 L825.89,236.30 L826.17,236.36 L826.46,236.42 L826.74,236.49 L827.02,236.55 L827.30,236.61 L827.58,236.67 L827.86,236.74 L828.15,236.80 L828.43,236.86 L828.71,236.92 L828.99,236.99 L829.27,237.05 L829.55,237.11 L829.84,237.17 L830.12,237.23 L830.40,237.30 L830.68,237.36 L830.96,237.42 L831.24,237.48 L831.53,237.54 L831.81,237.60 L832.09,237.66 L832.37,237.72 L832.65,237.78 L832.93,237.84 L833.22,237.90 L833.50,237.96 L833.78,238.03 L834.06,238.09 L834.34,238.15 L834.62,238.20 L834.91,238.26 L835.19,238.32 L835.47,238.38 L835.75,238.44 L836.03,238.50 L836.31,238.56 L836.60,238.62 L836.88,238.68 L837.16,238.74 L837.44,238.80 L837.72,238.86 L838.00,238.91 L838.29,238.97 L838.57,239.03 L838.85,239.09 L839.13,239.15 L839.41,239.20 L839.69,239.26 L839.98,239.32 L840.26,239.38 L840.54,239.44 L840.82,239.49 L841.10,239.55 L841.38,239.61 L841.67,239.66 L841.95,239.72 L842.23,239.78 L842.51,239.84 L842.79,239.89 L843.07,239.95 L843.36,240.00 L843.64,240.06 L843.92,240.12 L844.20,240.17 L844.48,240.23 L844.76,240.29 L845.05,240.34 L845.33,240.40 L845.61,240.45 L845.89,240.51 L846.17,240.56 L846.45,240.62 L846.74,240.67 L847.02,240.73 L847.30,240.78 L847.58,240.84 L847.86,240.89 L848.14,240.95 L848.43,241.00 L848.71,241.06 L848.99,241.11 L849.27,241.17 L849.55,241.22 L849.83,241.28 L850.12,241.33 L850.40,241.38 L850.68,241.44 L850.96,241.49 L851.24,241.54 L851.52,241.60 L851.81,241.65 L852.09,241.71 L852.37,241.76 L852.65,241.81 L852.93,241.86 L853.21,241.92 L853.50,241.97 L853.78,242.02 L854.06,242.08 L854.34,242.13 L854.62,242.18 L854.90,242.23 L855.19,242.29 L855.47,242.34 L855.75,242.39 L856.03,242.44 L856.31,242.49 L856.59,242.55 L856.88,242.60 L857.16,242.65 L857.44,242.70 L857.72,242.75 L858.00,242.80 L858.28,242.86 L858.57,242.91 L858.85,242.96 L859.13,243.01 L859.41,243.06 L859.69,243.11 L859.97,243.16 L860.26,243.21 L860.54,243.26 L860.82,243.31 L861.10,243.36 L861.38,243.41 L861.66,243.47 L861.95,243.52 L862.23,243.57 L862.51,243.62 L862.79,243.67 L863.07,243.72 L863.35,243.76 L863.64,243.81 L863.92,243.86 L864.20,243.91 L864.48,243.96 L864.76,244.01 L865.04,244.06 L865.33,244.11 L865.61,244.16 L865.89,244.21 L866.17,244.26 L866.45,244.31 L866.73,244.36 L867.02,244.40 L867.30,244.45 L867.58,244.50 L867.86,244.55 L868.14,244.60 L868.42,244.65 L868.71,244.69 L868.99,244.74 L869.27,244.79 L869.55,244.84 L869.83,244.89 L870.11,244.93 L870.40,244.98 L870.68,245.03 L870.96,245.08 L871.24,245.12 L871.52,245.17 L871.80,245.22 L872.09,245.27 L872.37,245.31 L872.65,245.36 L872.93,245.41 L873.21,245.45 L873.49,245.50 L873.78,245.55 L874.06,245.59 L874.34,245.64 L874.62,245.69 L874.90,245.73 L875.18,245.78 L875.47,245.83 L875.75,245.87 L876.03,245.92 L876.31,245.97 L876.59,246.01 L876.87,246.06 L877.16,246.10 L877.44,246.15 L877.72,246.19 L878.00,246.24 L878.28,246.29 L878.56,246.33 L878.85,246.38 L879.13,246.42 L879.41,246.47 L879.69,246.51 L879.97,246.56 L880.25,246.60 L880.54,246.65 L880.82,246.69 L881.10,246.74 L881.38,246.78 L881.66,246.83 L881.94,246.87 L882.23,246.92 L882.51,246.96 L882.79,247.00 L883.07,247.05 L883.35,247.09 L883.63,247.14 L883.92,247.18 L884.20,247.22 L884.48,247.27 L884.76,247.31 L885.04,247.36 L885.32,247.40 L885.61,247.44 L885.89,247.49 L886.17,247.53 L886.45,247.57 L886.73,247.62 L887.01,247.66 L887.30,247.70 L887.58,247.75 L887.86,247.79 L888.14,247.83 L888.42,247.88 L888.70,247.92 L888.99,247.96 L889.27,248.01 L889.55,248.05 L889.83,248.09 L890.11,248.13 L890.39,248.18 L890.68,248.22 L890.96,248.26 L891.24,248.30 L891.52,248.34 L891.80,248.39 L892.08,248.43 L892.37,248.47 L892.65,248.51 L892.93,248.55 L893.21,248.60 L893.49,248.64 L893.77,248.68 L894.06,248.72 L894.34,248.76 L894.62,248.80 L894.90,248.85 L895.18,248.89 L895.46,248.93 L895.75,248.97 L896.03,249.01 L896.31,249.05 L896.59,249.09 L896.87,249.13 L897.15,249.18 L897.44,249.22 L897.72,249.26 L898.00,249.30 L898.28,249.34 L898.56,249.38 L898.84,249.42 L899.13,249.46 L899.41,249.50 L899.69,249.54 L899.97,249.58 L900.25,249.62 L900.53,249.66 L900.82,249.70 L901.10,249.74 L901.38,249.78 L901.66,249.82 L901.94,249.86 L902.22,249.90 L902.51,249.94 L902.79,249.98 L903.07,250.02 L903.35,250.06 L903.63,250.10 L903.91,250.14 L904.20,250.18 L904.48,250.22 L904.76,250.26 L905.04,250.30 L905.32,250.34 L905.60,250.37 L905.89,250.41 L906.17,250.45 L906.45,250.49 L906.73,250.53 L907.01,250.57 L907.29,250.61 L907.58,250.65 L907.86,250.68 L908.14,250.72 L908.42,250.76 L908.70,250.80 L908.98,250.84 L909.27,250.88 L909.55,250.92 L909.83,250.95 L910.11,250.99 L910.39,251.03 L910.67,251.07 L910.96,251.11 L911.24,251.14 L911.52,251.18 L911.80,251.22 L912.08,251.26 L912.36,251.29 L912.65,251.33 L912.93,251.37 L913.21,251.41 L913.49,251.44 L913.77,251.48 L914.05,251.52 L914.34,251.56 L914.62,251.59 L914.90,251.63 L915.18,251.67 L915.46,251.71 L915.74,251.74 L916.03,251.78 L916.31,251.82 L916.59,251.85 L916.87,251.89 L917.15,251.93 L917.43,251.96 L917.72,252.00 L918.00,252.04 L918.28,252.07 L918.56,252.11 L918.84,252.15 L919.12,252.18 L919.41,252.22 L919.69,252.26 L919.97,252.29 L920.25,252.33 L920.53,252.36 L920.81,252.40 L921.10,252.44 L921.38,252.47 L921.66,252.51 L921.94,252.54 L922.22,252.58 L922.50,252.62 L922.79,252.65 L923.07,252.69 L923.35,252.72 L923.63,252.76 L923.91,252.79 L924.19,252.83 L924.48,252.86 L924.76,252.90 L925.04,252.94 L925.32,252.97 L925.60,253.01 L925.88,253.04 L926.17,253.08 L926.45,253.11 L926.73,253.15 L927.01,253.18 L927.29,253.22 L927.57,253.25 L927.86,253.29 L928.14,253.32 L928.42,253.36 L928.70,253.39 L928.98,253.42 L929.26,253.46 L929.55,253.49 L929.83,253.53 L930.11,253.56 L930.39,253.60 L930.67,253.63 L930.95,253.67 L931.24,253.70 L931.52,253.73 L931.80,253.77 L932.08,253.80 L932.36,253.84 L932.64,253.87 L932.93,253.90 L933.21,253.94 L933.49,253.97 L933.77,254.01 L934.05,254.04 L934.33,254.07 L934.62,254.11 L934.90,254.14 L935.18,254.17 L935.46,254.21 L935.74,254.24 L936.02,254.27 L936.31,254.31 L936.59,254.34 L936.87,254.37 L937.15,254.41 L937.43,254.44 L937.71,254.47 L938.00,254.51 L938.28,254.54 L938.56,254.57 L938.84,254.61 L939.12,254.64 L939.40,254.67 L939.69,254.70 L939.97,254.74 L940.25,254.77 L940.53,254.80 L940.81,254.83 L941.09,254.87 L941.38,254.90 L941.66,254.93 L941.94,254.96 L942.22,255.00 L942.50,255.03 L942.78,255.06 L943.07,255.09 L943.35,255.13 L943.63,255.16 L943.91,255.19 L944.19,255.22 L944.47,255.26 L944.76,255.29 L945.04,255.32 L945.32,255.35 L945.60,255.38 L945.88,255.41 L946.16,255.45 L946.45,255.48 L946.73,255.51 L947.01,255.54 L947.29,255.57 L947.57,255.60 L947.85,255.64 L948.14,255.67 L948.42,255.70 L948.70,255.73 L948.98,255.76 L949.26,255.79 L949.54,255.82 L949.83,255.86 L950.11,255.89 L950.39,255.92 L950.67,255.95 L950.95,255.98 L951.23,256.01 L951.52,256.04 L951.80,256.07 L952.08,256.10 L952.36,256.14 L952.64,256.17 L952.92,256.20 L953.21,256.23 L953.49,256.26 L953.77,256.29 L954.05,256.32 L954.33,256.35 L954.61,256.38 L954.90,256.41 L955.18,256.44 L955.46,256.47 L955.74,256.50 L956.02,256.53 L956.30,256.56 L956.59,256.59 L956.87,256.62 L957.15,256.65 L957.43,256.68 L957.71,256.71 L957.99,256.74 L958.28,256.77 L958.56,256.80 L958.84,256.83 L959.12,256.86 L959.40,256.89 L959.68,256.92 L959.97,256.95 L960.25,256.98 L960.53,257.01 L960.81,257.04 L961.09,257.07 L961.37,257.10 L961.66,257.13 L961.94,257.16 L962.22,257.19 L962.50,257.22 L962.78,257.25 L963.06,257.28 L963.35,257.31 L963.63,257.34 L963.91,257.37 L964.19,257.40 L964.47,257.42 L964.75,257.45 L965.04,257.48 L965.32,257.51 L965.60,257.54 L965.88,257.57 L966.16,257.60 L966.44,257.63 L966.73,257.66 L967.01,257.69 L967.29,257.71 L967.57,257.74 L967.85,257.77 L968.13,257.80 L968.42,257.83 L968.70,257.86 L968.98,257.89 L969.26,257.91 L969.54,257.94 L969.82,257.97 L970.11,258.00 L970.39,258.03 L970.67,258.06 L970.95,258.09 L971.23,258.11 L971.51,258.14 L971.80,258.17 L972.08,258.20 L972.36,258.23 L972.64,258.25 L972.92,258.28 L973.20,258.31 L973.49,258.34 L973.77,258.37 L974.05,258.39 L974.33,258.42 L974.61,258.45 L974.89,258.48 L975.18,258.51 L975.46,258.53 L975.74,258.56 L976.02,258.59 L976.30,258.62 L976.58,258.64 L976.87,258.67 L977.15,258.70 L977.43,258.73 L977.71,258.75 L977.99,258.78 L978.27,258.81 L978.56,258.84 L978.84,258.86 L979.12,258.89 L979.40,258.92 L979.68,258.95 L979.96,258.97 L980.25,259.00 L980.53,259.03 L980.81,259.05 L981.09,259.08 L981.37,259.11 L981.65,259.14 L981.94,259.16 L982.22,259.19 L982.50,259.22 L982.78,259.24 L983.06,259.27 L983.34,259.30 L983.63,259.32 L983.91,259.35 L984.19,259.38 L984.47,259.40 L984.75,259.43 L985.03,259.46 L985.32,259.48 L985.60,259.51 L985.88,259.54 L986.16,259.56 L986.44,259.59 L986.72,259.62 L987.01,259.64 L987.29,259.67 L987.57,259.69 L987.85,259.72 L988.13,259.75 L988.41,259.77 L988.70,259.80 L988.98,259.83 L989.26,259.85 L989.54,259.88 L989.82,259.90 L990.10,259.93 L990.39,259.96 L990.67,259.98 L990.95,260.01 L991.23,260.03 L991.51,260.06 L991.79,260.08 L992.08,260.11 L992.36,260.14 L992.64,260.16 L992.92,260.19 L993.20,260.21 L993.48,260.24 L993.77,260.26 L994.05,260.29 L994.33,260.32 L994.61,260.34 L994.89,260.37 L995.17,260.39 L995.46,260.42 L995.74,260.44 L996.02,260.47 L996.30,260.49 L996.58,260.52 L996.86,260.54 L997.15,260.57 L997.43,260.59 L997.71,260.62 L997.99,260.65 L998.27,260.67 L998.55,260.70 L998.84,260.72 L999.12,260.75 L999.40,260.77" stroke="#0000ff" stroke-width="1.5" fill="none"/>
<rect x="576.05" y="12.30" width="423.35" height="261.70" fill="none" stroke="#666" stroke-width="1.9"/>
<path d="M576.05,274.00v-4.90M576.05,12.30v4.90M597.22,274.00v-3.10M597.22,12.30v3.10M618.38,274.00v-3.10M618.38,12.30v3.10M639.55,274.00v-3.10M639.55,12.30v3.10M660.72,274.00v-4.90M660.72,12.30v4.90M681.89,274.00v-3.10M681.89,12.30v3.10M703.05,274.00v-3.10M703.05,12.30v3.10M724.22,274.00v-3.10M724.22,12.30v3.10M745.39,274.00v-4.90M745.39,12.30v4.90M766.56,274.00v-3.10M766.56,12.30v3.10M787.72,274.00v-3.10M787.72,12.30v3.10M808.89,274.00v-3.10M808.89,12.30v3.10M830.06,274.00v-4.90M830.06,12.30v4.90M851.23,274.00v-3.10M851.23,12.30v3.10M872.39,274.00v-3.10M872.39,12.30v3.10M893.56,274.00v-3.10M893.56,12.30v3.10M914.73,274.00v-4.90M914.73,12.30v4.90M935.90,274.00v-3.10M935.90,12.30v3.10M957.07,274.00v-3.10M957.07,12.30v3.10M978.23,274.00v-3.10M978.23,12.30v3.10M999.40,274.00v-4.90M999.40,12.30v4.90M576.05,274.00h3.10M999.40,274.00h-3.10M576.05,259.46h3.10M999.40,259.46h-3.10M576.05,244.92h3.10M999.40,244.92h-3.10M576.05,230.38h4.90M999.40,230.38h-4.90M576.05,215.84h3.10M999.40,215.84h-3.10M576.05,201.31h3.10M999.40,201.31h-3.10M576.05,186.77h3.10M999.40,186.77h-3.10M576.05,172.23h3.10M999.40,172.23h-3.10M576.05,157.69h4.90M999.40,157.69h-4.90M576.05,143.15h3.10M999.40,143.15h-3.10M576.05,128.61h3.10M999.40,128.61h-3.10M576.05,114.07h3.10M999.40,114.07h-3.10M576.05,99.53h3.10M999.40,99.53h-3.10M576.05,84.99h4.90M999.40,84.99h-4.90M576.05,70.46h3.10M999.40,70.46h-3.10M576.05,55.92h3.10M999.40,55.92h-3.10M576.05,41.38h3.10M999.40,41.38h-3.10M576.05,26.84h3.10M999.40,26.84h-3.10M576.05,12.30h4.90M999.40,12.30h-4.90" stroke="#000" stroke-width="1.5" fill="none"/>
<line x1="884.6" x2="900" y1="35.30" y2="35.30" stroke="#00ff00" stroke-width="1.2"/>
<path d="M937.10,34.70h13.20M937.10,40.70h13.20" stroke="#000" stroke-width="1.30" fill="none"/>
<line x1="961.00" x2="970.20" y1="37.60" y2="37.60" stroke="#000" stroke-width="1.1"/>
<line x1="884.6" x2="900" y1="85.70" y2="85.70" stroke="#ff0000" stroke-width="1.2"/>
<path d="M937.10,85.50h13.20M937.10,91.50h13.20" stroke="#000" stroke-width="1.30" fill="none"/>
<line x1="884.6" x2="900" y1="133.80" y2="133.80" stroke="#0000ff" stroke-width="1.2"/>
<path d="M937.10,132.60h13.20M937.10,138.60h13.20" stroke="#000" stroke-width="1.30" fill="none"/>
<line x1="959.5" x2="971.9" y1="135.40" y2="135.40" stroke="#000" stroke-width="1.3"/>
<line x1="976.60" x2="985.80" y1="135.50" y2="135.50" stroke="#000" stroke-width="1.1"/>
<filter id="gs" x="0" y="0" width="1014" height="364" filterUnits="userSpaceOnUse"><feOffset dx="0" dy="0"/></filter>
<g filter="url(#gs)">
<text x="42.18" y="297.10" font-size="21.00">−</text>
<text x="56.73" y="296.20" font-size="21.00" textLength="23.89" lengthAdjust="spacingAndGlyphs">1.0</text>
<text x="148.53" y="297.10" font-size="21.00">−</text>
<text x="163.08" y="296.20" font-size="21.00" textLength="23.89" lengthAdjust="spacingAndGlyphs">0.5</text>
<text x="262.76" y="296.20" font-size="21.00" textLength="23.89" lengthAdjust="spacingAndGlyphs">0.0</text>
<text x="369.11" y="296.20" font-size="21.00" textLength="23.89" lengthAdjust="spacingAndGlyphs">0.5</text>
<text x="475.46" y="296.20" font-size="21.00" textLength="23.89" lengthAdjust="spacingAndGlyphs">1.0</text>
<text x="34.01" y="282.85" font-size="21.00" textLength="23.89" lengthAdjust="spacingAndGlyphs">1.1</text>
<text x="35.01" y="230.21" font-size="21.00" textLength="23.89" lengthAdjust="spacingAndGlyphs">1.2</text>
<text x="35.01" y="177.57" font-size="21.00" textLength="23.89" lengthAdjust="spacingAndGlyphs">1.3</text>
<text x="35.01" y="124.93" font-size="21.00" textLength="23.89" lengthAdjust="spacingAndGlyphs">1.4</text>
<text x="35.01" y="72.29" font-size="21.00" textLength="23.89" lengthAdjust="spacingAndGlyphs">1.5</text>
<text x="35.01" y="19.65" font-size="21.00" textLength="23.89" lengthAdjust="spacingAndGlyphs">1.6</text>
<text transform="translate(274.50,329.70) skewX(-8.0)" font-size="24.40" font-style="italic" text-anchor="middle">ω</text>
<text transform="translate(22.8,143.60) rotate(-90)" font-size="26.2" text-anchor="middle">a(t)</text>
<text transform="translate(399.70,39.90) skewX(-6.0)" font-size="25.00" font-style="italic" text-anchor="start">ζ</text>
<text x="410.0" y="43.60" font-size="19" textLength="8.6" lengthAdjust="spacingAndGlyphs">0</text>
<text x="447.80" y="39.90" font-size="25.00" textLength="30.00" lengthAdjust="spacingAndGlyphs">0.5</text>
<text transform="translate(399.70,84.00) skewX(-6.0)" font-size="25.00" font-style="italic" text-anchor="start">ζ</text>
<text x="410.0" y="87.70" font-size="19" textLength="8.6" lengthAdjust="spacingAndGlyphs">0</text>
<text x="448.60" y="84.00" font-size="25.00" textLength="30.00" lengthAdjust="spacingAndGlyphs">1.0</text>
<text transform="translate(399.70,127.30) skewX(-6.0)" font-size="25.00" font-style="italic" text-anchor="start">ζ</text>
<text x="410.0" y="131.00" font-size="19" textLength="8.6" lengthAdjust="spacingAndGlyphs">0</text>
<text x="448.60" y="127.30" font-size="25.00" textLength="30.00" lengthAdjust="spacingAndGlyphs">1.5</text>
<text x="564.11" y="296.20" font-size="21.00" textLength="23.89" lengthAdjust="spacingAndGlyphs">0.0</text>
<text x="648.78" y="296.20" font-size="21.00" textLength="23.89" lengthAdjust="spacingAndGlyphs">0.2</text>
<text x="733.45" y="296.20" font-size="21.00" textLength="23.89" lengthAdjust="spacingAndGlyphs">0.4</text>
<text x="818.12" y="296.20" font-size="21.00" textLength="23.89" lengthAdjust="spacingAndGlyphs">0.6</text>
<text x="902.79" y="296.20" font-size="21.00" textLength="23.89" lengthAdjust="spacingAndGlyphs">0.8</text>
<text x="987.46" y="296.20" font-size="21.00" textLength="23.89" lengthAdjust="spacingAndGlyphs">1.0</text>
<text x="549.06" y="237.63" font-size="21.00" textLength="23.89" lengthAdjust="spacingAndGlyphs">1.5</text>
<text x="549.06" y="164.94" font-size="21.00" textLength="23.89" lengthAdjust="spacingAndGlyphs">2.0</text>
<text x="549.06" y="92.24" font-size="21.00" textLength="23.89" lengthAdjust="spacingAndGlyphs">2.5</text>
<text x="549.06" y="19.55" font-size="21.00" textLength="23.89" lengthAdjust="spacingAndGlyphs">3.0</text>
<text transform="translate(777.12,328.80) skewX(-6.0)" font-size="23.00" font-style="italic" text-anchor="start">ζ</text>
<text x="787.12" y="331.7" font-size="17">0</text>
<text transform="translate(535.8,143.00) rotate(-90)" font-size="26.2" text-anchor="middle">a(t)</text>
<text transform="translate(912.70,43.70) skewX(-6.0)" font-size="25.00" font-style="italic" text-anchor="start">ω</text>
<text x="965.60" y="34.60" font-size="17.5" text-anchor="middle">1</text>
<text x="965.60" y="53.60" font-size="17.5" text-anchor="middle">3</text>
<text transform="translate(912.70,94.50) skewX(-6.0)" font-size="25.00" font-style="italic" text-anchor="start">ω</text>
<text x="958.20" y="94.50" font-size="25.00" textLength="12.00" lengthAdjust="spacingAndGlyphs">0</text>
<text transform="translate(912.70,141.60) skewX(-6.0)" font-size="25.00" font-style="italic" text-anchor="start">ω</text>
<text x="981.20" y="132.50" font-size="17.5" text-anchor="middle">1</text>
<text x="981.20" y="151.50" font-size="17.5" text-anchor="middle">3</text>
</g>
</svg>
</body></html>
